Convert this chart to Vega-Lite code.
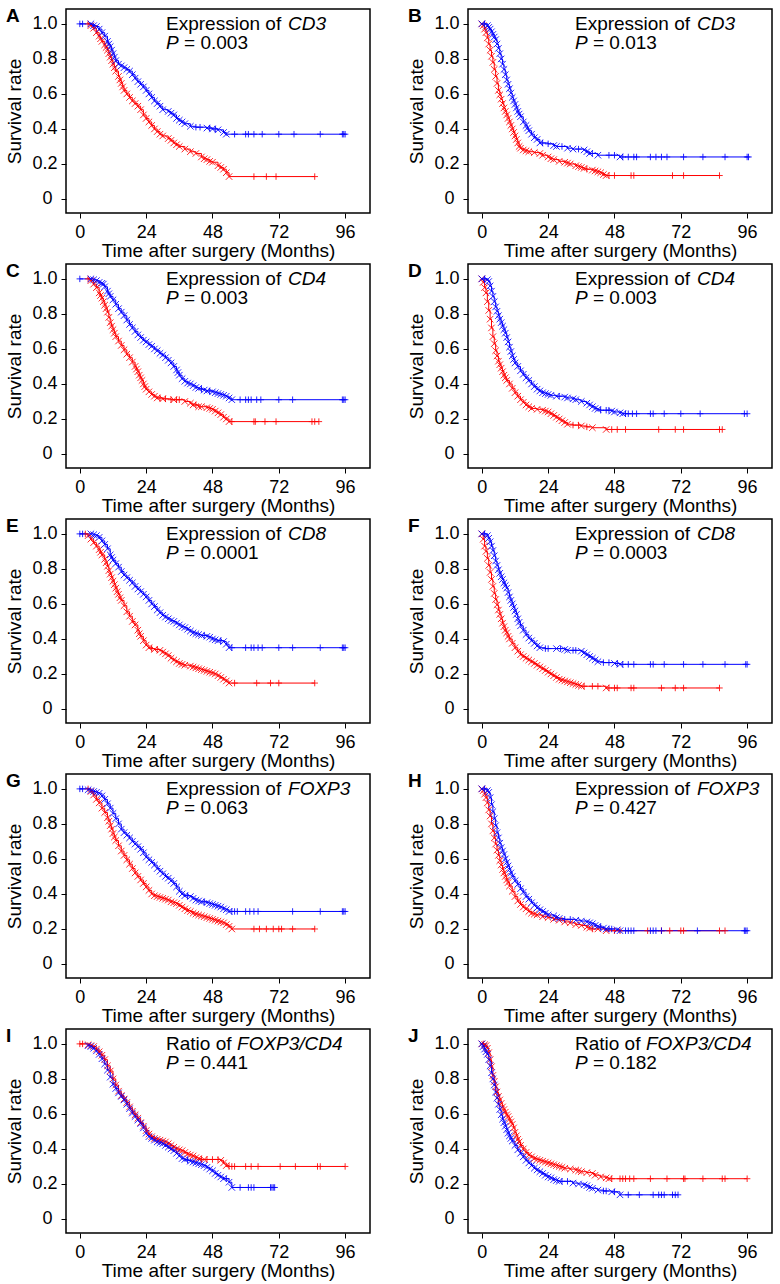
{
"$schema":"https://vega.github.io/schema/vega-lite/v6.json",
"padding":{"left":5,"top":6,"right":5,"bottom":2},
"datasets":{"km":[
{"p":"A","g":"r","t":3,"s":1,"m":"+"},{"p":"A","g":"r","t":4,"s":0.99,"m":"x"},{"p":"A","g":"r","t":5,"s":0.975,"m":"x"},{"p":"A","g":"r","t":6,"s":0.95,"m":"x"},{"p":"A","g":"r","t":7,"s":0.93,"m":"x"},{"p":"A","g":"r","t":7.5,"s":0.915,"m":"x"},{"p":"A","g":"r","t":8,"s":0.9,"m":"x"},{"p":"A","g":"r","t":9,"s":0.88,"m":"x"},{"p":"A","g":"r","t":9.5,"s":0.865,"m":"x"},{"p":"A","g":"r","t":10,"s":0.85,"m":"x"},{"p":"A","g":"r","t":10.5,"s":0.83,"m":"x"},{"p":"A","g":"r","t":11,"s":0.81,"m":"x"},{"p":"A","g":"r","t":11.5,"s":0.79,"m":"x"},{"p":"A","g":"r","t":12,"s":0.77,"m":"x"},{"p":"A","g":"r","t":12.5,"s":0.75,"m":"x"},{"p":"A","g":"r","t":13,"s":0.73,"m":"x"},{"p":"A","g":"r","t":14,"s":0.7,"m":"x"},{"p":"A","g":"r","t":14.5,"s":0.68,"m":"x"},{"p":"A","g":"r","t":15,"s":0.66,"m":"x"},{"p":"A","g":"r","t":15.5,"s":0.64,"m":"x"},{"p":"A","g":"r","t":16,"s":0.62,"m":"x"},{"p":"A","g":"r","t":17,"s":0.6,"m":"x"},{"p":"A","g":"r","t":18,"s":0.58,"m":"x"},{"p":"A","g":"r","t":19,"s":0.56,"m":"x"},{"p":"A","g":"r","t":20,"s":0.545,"m":"x"},{"p":"A","g":"r","t":21,"s":0.53,"m":"x"},{"p":"A","g":"r","t":22,"s":0.51,"m":"x"},{"p":"A","g":"r","t":23,"s":0.48,"m":"x"},{"p":"A","g":"r","t":24,"s":0.46,"m":"x"},{"p":"A","g":"r","t":25,"s":0.44,"m":"x"},{"p":"A","g":"r","t":26,"s":0.42,"m":"x"},{"p":"A","g":"r","t":27,"s":0.4,"m":"x"},{"p":"A","g":"r","t":28,"s":0.385,"m":"x"},{"p":"A","g":"r","t":29,"s":0.37,"m":"x"},{"p":"A","g":"r","t":30,"s":0.36,"m":"x"},{"p":"A","g":"r","t":32,"s":0.345,"m":"x"},{"p":"A","g":"r","t":33,"s":0.335,"m":"x"},{"p":"A","g":"r","t":34,"s":0.32,"m":"x"},{"p":"A","g":"r","t":35,"s":0.31,"m":"x"},{"p":"A","g":"r","t":36,"s":0.3,"m":"x"},{"p":"A","g":"r","t":38,"s":0.285,"m":"x"},{"p":"A","g":"r","t":40,"s":0.27,"m":"x"},{"p":"A","g":"r","t":42,"s":0.26,"m":"x"},{"p":"A","g":"r","t":44,"s":0.24,"m":"x"},{"p":"A","g":"r","t":45,"s":0.23,"m":"x"},{"p":"A","g":"r","t":46,"s":0.225,"m":"x"},{"p":"A","g":"r","t":47,"s":0.215,"m":"x"},{"p":"A","g":"r","t":48,"s":0.21,"m":"x"},{"p":"A","g":"r","t":50,"s":0.19,"m":"x"},{"p":"A","g":"r","t":51,"s":0.18,"m":"x"},{"p":"A","g":"r","t":52,"s":0.17,"m":"x"},{"p":"A","g":"r","t":53,"s":0.15,"m":"x"},{"p":"A","g":"r","t":54,"s":0.128,"m":"x"},{"p":"A","g":"r","t":63,"s":0.128,"m":"+"},{"p":"A","g":"r","t":67.5,"s":0.128,"m":"+"},{"p":"A","g":"r","t":71,"s":0.128,"m":"+"},{"p":"A","g":"r","t":85,"s":0.128,"m":"+"},
{"p":"A","g":"b","t":0,"s":1,"m":"+"},{"p":"A","g":"b","t":1,"s":1,"m":"+"},{"p":"A","g":"b","t":4,"s":1,"m":"x"},{"p":"A","g":"b","t":5,"s":0.99,"m":"x"},{"p":"A","g":"b","t":6,"s":0.985,"m":"x"},{"p":"A","g":"b","t":7,"s":0.97,"m":"x"},{"p":"A","g":"b","t":8,"s":0.95,"m":"x"},{"p":"A","g":"b","t":9,"s":0.93,"m":"x"},{"p":"A","g":"b","t":10,"s":0.9,"m":"x"},{"p":"A","g":"b","t":10.5,"s":0.885,"m":"x"},{"p":"A","g":"b","t":11,"s":0.87,"m":"x"},{"p":"A","g":"b","t":11.5,"s":0.85,"m":"x"},{"p":"A","g":"b","t":12,"s":0.83,"m":"x"},{"p":"A","g":"b","t":12.5,"s":0.81,"m":"x"},{"p":"A","g":"b","t":13,"s":0.79,"m":"x"},{"p":"A","g":"b","t":14,"s":0.77,"m":"x"},{"p":"A","g":"b","t":15,"s":0.76,"m":"x"},{"p":"A","g":"b","t":16,"s":0.75,"m":"x"},{"p":"A","g":"b","t":17,"s":0.74,"m":"x"},{"p":"A","g":"b","t":18,"s":0.73,"m":"x"},{"p":"A","g":"b","t":19,"s":0.71,"m":"x"},{"p":"A","g":"b","t":20,"s":0.69,"m":"x"},{"p":"A","g":"b","t":21,"s":0.67,"m":"x"},{"p":"A","g":"b","t":22,"s":0.655,"m":"x"},{"p":"A","g":"b","t":23,"s":0.64,"m":"x"},{"p":"A","g":"b","t":24,"s":0.62,"m":"x"},{"p":"A","g":"b","t":25,"s":0.6,"m":"x"},{"p":"A","g":"b","t":26,"s":0.58,"m":"x"},{"p":"A","g":"b","t":27,"s":0.56,"m":"x"},{"p":"A","g":"b","t":28,"s":0.545,"m":"x"},{"p":"A","g":"b","t":29,"s":0.53,"m":"x"},{"p":"A","g":"b","t":30,"s":0.51,"m":"x"},{"p":"A","g":"b","t":32,"s":0.5,"m":"x"},{"p":"A","g":"b","t":33,"s":0.49,"m":"x"},{"p":"A","g":"b","t":34,"s":0.48,"m":"x"},{"p":"A","g":"b","t":35,"s":0.46,"m":"x"},{"p":"A","g":"b","t":36,"s":0.45,"m":"x"},{"p":"A","g":"b","t":37,"s":0.44,"m":"x"},{"p":"A","g":"b","t":38,"s":0.43,"m":"x"},{"p":"A","g":"b","t":40,"s":0.415,"m":"x"},{"p":"A","g":"b","t":42,"s":0.41,"m":"+"},{"p":"A","g":"b","t":43.5,"s":0.41,"m":"+"},{"p":"A","g":"b","t":46,"s":0.405,"m":"x"},{"p":"A","g":"b","t":47,"s":0.405,"m":"+"},{"p":"A","g":"b","t":48,"s":0.4,"m":"x"},{"p":"A","g":"b","t":49,"s":0.4,"m":"+"},{"p":"A","g":"b","t":50,"s":0.395,"m":"x"},{"p":"A","g":"b","t":52,"s":0.38,"m":"x"},{"p":"A","g":"b","t":53,"s":0.37,"m":"x"},{"p":"A","g":"b","t":56,"s":0.37,"m":"+"},{"p":"A","g":"b","t":60,"s":0.37,"m":"+"},{"p":"A","g":"b","t":61,"s":0.37,"m":"+"},{"p":"A","g":"b","t":63,"s":0.37,"m":"+"},{"p":"A","g":"b","t":66,"s":0.37,"m":"+"},{"p":"A","g":"b","t":72,"s":0.37,"m":"+"},{"p":"A","g":"b","t":77.5,"s":0.37,"m":"+"},{"p":"A","g":"b","t":87,"s":0.37,"m":"+"},{"p":"A","g":"b","t":95,"s":0.37,"m":"+"},{"p":"A","g":"b","t":95.5,"s":0.37,"m":"+"},{"p":"A","g":"b","t":96,"s":0.37,"m":"+"},
{"p":"B","g":"r","t":0,"s":1,"m":"x"},{"p":"B","g":"r","t":0.5,"s":0.99,"m":"x"},{"p":"B","g":"r","t":1,"s":0.97,"m":"x"},{"p":"B","g":"r","t":1.5,"s":0.95,"m":"x"},{"p":"B","g":"r","t":2,"s":0.92,"m":"x"},{"p":"B","g":"r","t":2.5,"s":0.885,"m":"x"},{"p":"B","g":"r","t":3,"s":0.85,"m":"x"},{"p":"B","g":"r","t":3.5,"s":0.815,"m":"x"},{"p":"B","g":"r","t":4,"s":0.78,"m":"x"},{"p":"B","g":"r","t":4.5,"s":0.74,"m":"x"},{"p":"B","g":"r","t":5,"s":0.7,"m":"x"},{"p":"B","g":"r","t":5.5,"s":0.66,"m":"x"},{"p":"B","g":"r","t":6,"s":0.62,"m":"x"},{"p":"B","g":"r","t":6.5,"s":0.595,"m":"x"},{"p":"B","g":"r","t":7,"s":0.57,"m":"x"},{"p":"B","g":"r","t":7.5,"s":0.545,"m":"x"},{"p":"B","g":"r","t":8,"s":0.52,"m":"x"},{"p":"B","g":"r","t":8.5,"s":0.5,"m":"x"},{"p":"B","g":"r","t":9,"s":0.48,"m":"x"},{"p":"B","g":"r","t":9.5,"s":0.46,"m":"x"},{"p":"B","g":"r","t":10,"s":0.44,"m":"x"},{"p":"B","g":"r","t":10.5,"s":0.42,"m":"x"},{"p":"B","g":"r","t":11,"s":0.4,"m":"x"},{"p":"B","g":"r","t":11.5,"s":0.38,"m":"x"},{"p":"B","g":"r","t":12,"s":0.36,"m":"x"},{"p":"B","g":"r","t":12.5,"s":0.34,"m":"x"},{"p":"B","g":"r","t":13,"s":0.32,"m":"x"},{"p":"B","g":"r","t":13.5,"s":0.3,"m":"x"},{"p":"B","g":"r","t":14,"s":0.29,"m":"x"},{"p":"B","g":"r","t":15,"s":0.28,"m":"x"},{"p":"B","g":"r","t":16,"s":0.275,"m":"x"},{"p":"B","g":"r","t":17,"s":0.27,"m":"x"},{"p":"B","g":"r","t":19,"s":0.265,"m":"x"},{"p":"B","g":"r","t":21,"s":0.26,"m":"x"},{"p":"B","g":"r","t":22,"s":0.25,"m":"x"},{"p":"B","g":"r","t":24,"s":0.24,"m":"x"},{"p":"B","g":"r","t":25,"s":0.23,"m":"x"},{"p":"B","g":"r","t":26,"s":0.225,"m":"x"},{"p":"B","g":"r","t":28,"s":0.215,"m":"x"},{"p":"B","g":"r","t":30,"s":0.21,"m":"x"},{"p":"B","g":"r","t":31,"s":0.205,"m":"x"},{"p":"B","g":"r","t":32,"s":0.2,"m":"x"},{"p":"B","g":"r","t":34,"s":0.19,"m":"x"},{"p":"B","g":"r","t":35,"s":0.185,"m":"x"},{"p":"B","g":"r","t":36,"s":0.18,"m":"x"},{"p":"B","g":"r","t":37,"s":0.175,"m":"x"},{"p":"B","g":"r","t":38,"s":0.17,"m":"+"},{"p":"B","g":"r","t":40,"s":0.165,"m":"x"},{"p":"B","g":"r","t":41,"s":0.16,"m":"x"},{"p":"B","g":"r","t":42,"s":0.155,"m":"x"},{"p":"B","g":"r","t":43,"s":0.15,"m":"x"},{"p":"B","g":"r","t":44,"s":0.14,"m":"x"},{"p":"B","g":"r","t":45,"s":0.134,"m":"x"},{"p":"B","g":"r","t":46,"s":0.134,"m":"+"},{"p":"B","g":"r","t":48,"s":0.134,"m":"+"},{"p":"B","g":"r","t":54,"s":0.134,"m":"+"},{"p":"B","g":"r","t":55,"s":0.134,"m":"+"},{"p":"B","g":"r","t":69,"s":0.134,"m":"+"},{"p":"B","g":"r","t":73,"s":0.134,"m":"+"},{"p":"B","g":"r","t":86,"s":0.134,"m":"+"},
{"p":"B","g":"b","t":0,"s":1,"m":"x"},{"p":"B","g":"b","t":1,"s":1,"m":"+"},{"p":"B","g":"b","t":2,"s":0.99,"m":"x"},{"p":"B","g":"b","t":2.5,"s":0.98,"m":"x"},{"p":"B","g":"b","t":3,"s":0.97,"m":"x"},{"p":"B","g":"b","t":3.5,"s":0.955,"m":"x"},{"p":"B","g":"b","t":4,"s":0.94,"m":"x"},{"p":"B","g":"b","t":4.5,"s":0.925,"m":"x"},{"p":"B","g":"b","t":5,"s":0.91,"m":"x"},{"p":"B","g":"b","t":5.5,"s":0.885,"m":"x"},{"p":"B","g":"b","t":6,"s":0.86,"m":"x"},{"p":"B","g":"b","t":6.5,"s":0.83,"m":"x"},{"p":"B","g":"b","t":7,"s":0.8,"m":"x"},{"p":"B","g":"b","t":7.5,"s":0.77,"m":"x"},{"p":"B","g":"b","t":8,"s":0.74,"m":"x"},{"p":"B","g":"b","t":8.5,"s":0.71,"m":"x"},{"p":"B","g":"b","t":9,"s":0.68,"m":"x"},{"p":"B","g":"b","t":9.5,"s":0.655,"m":"x"},{"p":"B","g":"b","t":10,"s":0.63,"m":"x"},{"p":"B","g":"b","t":10.5,"s":0.605,"m":"x"},{"p":"B","g":"b","t":11,"s":0.58,"m":"x"},{"p":"B","g":"b","t":11.5,"s":0.56,"m":"x"},{"p":"B","g":"b","t":12,"s":0.54,"m":"x"},{"p":"B","g":"b","t":12.5,"s":0.52,"m":"x"},{"p":"B","g":"b","t":13,"s":0.5,"m":"x"},{"p":"B","g":"b","t":13.5,"s":0.485,"m":"x"},{"p":"B","g":"b","t":14,"s":0.47,"m":"x"},{"p":"B","g":"b","t":15,"s":0.44,"m":"x"},{"p":"B","g":"b","t":16,"s":0.42,"m":"x"},{"p":"B","g":"b","t":16.5,"s":0.405,"m":"x"},{"p":"B","g":"b","t":17,"s":0.39,"m":"x"},{"p":"B","g":"b","t":18,"s":0.37,"m":"x"},{"p":"B","g":"b","t":19,"s":0.35,"m":"x"},{"p":"B","g":"b","t":20,"s":0.34,"m":"x"},{"p":"B","g":"b","t":21,"s":0.32,"m":"x"},{"p":"B","g":"b","t":22,"s":0.32,"m":"+"},{"p":"B","g":"b","t":24,"s":0.315,"m":"+"},{"p":"B","g":"b","t":26,"s":0.305,"m":"x"},{"p":"B","g":"b","t":27,"s":0.3,"m":"x"},{"p":"B","g":"b","t":29,"s":0.3,"m":"+"},{"p":"B","g":"b","t":31,"s":0.29,"m":"x"},{"p":"B","g":"b","t":33,"s":0.285,"m":"x"},{"p":"B","g":"b","t":35,"s":0.285,"m":"+"},{"p":"B","g":"b","t":37,"s":0.28,"m":"x"},{"p":"B","g":"b","t":38,"s":0.27,"m":"x"},{"p":"B","g":"b","t":39,"s":0.26,"m":"x"},{"p":"B","g":"b","t":40,"s":0.26,"m":"+"},{"p":"B","g":"b","t":42,"s":0.25,"m":"x"},{"p":"B","g":"b","t":46,"s":0.25,"m":"+"},{"p":"B","g":"b","t":48,"s":0.25,"m":"+"},{"p":"B","g":"b","t":50,"s":0.24,"m":"x"},{"p":"B","g":"b","t":51,"s":0.24,"m":"+"},{"p":"B","g":"b","t":53,"s":0.24,"m":"+"},{"p":"B","g":"b","t":55,"s":0.24,"m":"+"},{"p":"B","g":"b","t":56,"s":0.24,"m":"+"},{"p":"B","g":"b","t":61,"s":0.24,"m":"+"},{"p":"B","g":"b","t":63,"s":0.24,"m":"+"},{"p":"B","g":"b","t":65,"s":0.24,"m":"+"},{"p":"B","g":"b","t":67,"s":0.24,"m":"+"},{"p":"B","g":"b","t":73,"s":0.24,"m":"+"},{"p":"B","g":"b","t":80,"s":0.24,"m":"+"},{"p":"B","g":"b","t":88,"s":0.24,"m":"+"},{"p":"B","g":"b","t":96,"s":0.24,"m":"+"},{"p":"B","g":"b","t":96.5,"s":0.24,"m":"+"},
{"p":"C","g":"r","t":3,"s":1,"m":"+"},{"p":"C","g":"r","t":4,"s":0.99,"m":"x"},{"p":"C","g":"r","t":5,"s":0.97,"m":"x"},{"p":"C","g":"r","t":6,"s":0.95,"m":"x"},{"p":"C","g":"r","t":7,"s":0.92,"m":"x"},{"p":"C","g":"r","t":7.5,"s":0.905,"m":"x"},{"p":"C","g":"r","t":8,"s":0.89,"m":"x"},{"p":"C","g":"r","t":8.5,"s":0.87,"m":"x"},{"p":"C","g":"r","t":9,"s":0.85,"m":"x"},{"p":"C","g":"r","t":9.5,"s":0.83,"m":"x"},{"p":"C","g":"r","t":10,"s":0.81,"m":"x"},{"p":"C","g":"r","t":10.5,"s":0.78,"m":"x"},{"p":"C","g":"r","t":11,"s":0.75,"m":"x"},{"p":"C","g":"r","t":11.5,"s":0.73,"m":"x"},{"p":"C","g":"r","t":12,"s":0.71,"m":"x"},{"p":"C","g":"r","t":12.5,"s":0.69,"m":"x"},{"p":"C","g":"r","t":13,"s":0.67,"m":"x"},{"p":"C","g":"r","t":14,"s":0.645,"m":"x"},{"p":"C","g":"r","t":15,"s":0.62,"m":"x"},{"p":"C","g":"r","t":16,"s":0.595,"m":"x"},{"p":"C","g":"r","t":17,"s":0.57,"m":"x"},{"p":"C","g":"r","t":18,"s":0.55,"m":"x"},{"p":"C","g":"r","t":19,"s":0.525,"m":"x"},{"p":"C","g":"r","t":20,"s":0.5,"m":"x"},{"p":"C","g":"r","t":20.5,"s":0.485,"m":"x"},{"p":"C","g":"r","t":21,"s":0.47,"m":"x"},{"p":"C","g":"r","t":21.5,"s":0.45,"m":"x"},{"p":"C","g":"r","t":22,"s":0.435,"m":"x"},{"p":"C","g":"r","t":22.5,"s":0.42,"m":"x"},{"p":"C","g":"r","t":23,"s":0.4,"m":"x"},{"p":"C","g":"r","t":23.5,"s":0.385,"m":"x"},{"p":"C","g":"r","t":24,"s":0.37,"m":"x"},{"p":"C","g":"r","t":25,"s":0.355,"m":"x"},{"p":"C","g":"r","t":26,"s":0.34,"m":"x"},{"p":"C","g":"r","t":27,"s":0.33,"m":"x"},{"p":"C","g":"r","t":28,"s":0.32,"m":"x"},{"p":"C","g":"r","t":29,"s":0.32,"m":"+"},{"p":"C","g":"r","t":30,"s":0.315,"m":"x"},{"p":"C","g":"r","t":31,"s":0.315,"m":"+"},{"p":"C","g":"r","t":33,"s":0.31,"m":"+"},{"p":"C","g":"r","t":34,"s":0.31,"m":"x"},{"p":"C","g":"r","t":35,"s":0.31,"m":"+"},{"p":"C","g":"r","t":36,"s":0.31,"m":"+"},{"p":"C","g":"r","t":38,"s":0.3,"m":"x"},{"p":"C","g":"r","t":40,"s":0.29,"m":"x"},{"p":"C","g":"r","t":41,"s":0.28,"m":"x"},{"p":"C","g":"r","t":42,"s":0.28,"m":"+"},{"p":"C","g":"r","t":43,"s":0.27,"m":"x"},{"p":"C","g":"r","t":44,"s":0.27,"m":"x"},{"p":"C","g":"r","t":46,"s":0.265,"m":"x"},{"p":"C","g":"r","t":47,"s":0.26,"m":"x"},{"p":"C","g":"r","t":48,"s":0.255,"m":"x"},{"p":"C","g":"r","t":49,"s":0.245,"m":"x"},{"p":"C","g":"r","t":50,"s":0.235,"m":"x"},{"p":"C","g":"r","t":51,"s":0.225,"m":"x"},{"p":"C","g":"r","t":52,"s":0.21,"m":"x"},{"p":"C","g":"r","t":53,"s":0.2,"m":"x"},{"p":"C","g":"r","t":54,"s":0.185,"m":"x"},{"p":"C","g":"r","t":55,"s":0.185,"m":"+"},{"p":"C","g":"r","t":63,"s":0.185,"m":"+"},{"p":"C","g":"r","t":63.5,"s":0.185,"m":"+"},{"p":"C","g":"r","t":67,"s":0.185,"m":"+"},{"p":"C","g":"r","t":71,"s":0.185,"m":"+"},{"p":"C","g":"r","t":84,"s":0.185,"m":"+"},{"p":"C","g":"r","t":85,"s":0.185,"m":"+"},{"p":"C","g":"r","t":86.5,"s":0.185,"m":"+"},
{"p":"C","g":"b","t":0,"s":1,"m":"+"},{"p":"C","g":"b","t":4,"s":1,"m":"x"},{"p":"C","g":"b","t":5,"s":0.995,"m":"x"},{"p":"C","g":"b","t":6,"s":0.99,"m":"x"},{"p":"C","g":"b","t":7,"s":0.98,"m":"x"},{"p":"C","g":"b","t":8,"s":0.975,"m":"x"},{"p":"C","g":"b","t":8.5,"s":0.97,"m":"x"},{"p":"C","g":"b","t":9,"s":0.955,"m":"x"},{"p":"C","g":"b","t":10,"s":0.93,"m":"x"},{"p":"C","g":"b","t":10.5,"s":0.915,"m":"x"},{"p":"C","g":"b","t":11,"s":0.9,"m":"x"},{"p":"C","g":"b","t":12,"s":0.88,"m":"x"},{"p":"C","g":"b","t":13,"s":0.855,"m":"x"},{"p":"C","g":"b","t":14,"s":0.83,"m":"x"},{"p":"C","g":"b","t":15,"s":0.81,"m":"x"},{"p":"C","g":"b","t":16,"s":0.79,"m":"x"},{"p":"C","g":"b","t":17,"s":0.765,"m":"x"},{"p":"C","g":"b","t":18,"s":0.74,"m":"x"},{"p":"C","g":"b","t":19,"s":0.72,"m":"x"},{"p":"C","g":"b","t":20,"s":0.7,"m":"x"},{"p":"C","g":"b","t":21,"s":0.68,"m":"x"},{"p":"C","g":"b","t":22,"s":0.665,"m":"x"},{"p":"C","g":"b","t":23,"s":0.65,"m":"x"},{"p":"C","g":"b","t":24,"s":0.64,"m":"x"},{"p":"C","g":"b","t":25,"s":0.625,"m":"x"},{"p":"C","g":"b","t":26,"s":0.615,"m":"x"},{"p":"C","g":"b","t":27,"s":0.6,"m":"x"},{"p":"C","g":"b","t":28,"s":0.59,"m":"x"},{"p":"C","g":"b","t":29,"s":0.575,"m":"x"},{"p":"C","g":"b","t":30,"s":0.565,"m":"x"},{"p":"C","g":"b","t":31,"s":0.55,"m":"x"},{"p":"C","g":"b","t":32,"s":0.535,"m":"x"},{"p":"C","g":"b","t":33,"s":0.52,"m":"x"},{"p":"C","g":"b","t":34,"s":0.5,"m":"x"},{"p":"C","g":"b","t":35,"s":0.48,"m":"x"},{"p":"C","g":"b","t":35.5,"s":0.465,"m":"x"},{"p":"C","g":"b","t":36,"s":0.45,"m":"x"},{"p":"C","g":"b","t":37,"s":0.43,"m":"x"},{"p":"C","g":"b","t":38,"s":0.415,"m":"x"},{"p":"C","g":"b","t":39,"s":0.405,"m":"x"},{"p":"C","g":"b","t":40,"s":0.4,"m":"x"},{"p":"C","g":"b","t":41,"s":0.39,"m":"x"},{"p":"C","g":"b","t":42,"s":0.38,"m":"x"},{"p":"C","g":"b","t":43,"s":0.375,"m":"x"},{"p":"C","g":"b","t":44,"s":0.37,"m":"+"},{"p":"C","g":"b","t":45,"s":0.365,"m":"x"},{"p":"C","g":"b","t":46,"s":0.36,"m":"x"},{"p":"C","g":"b","t":47,"s":0.36,"m":"+"},{"p":"C","g":"b","t":48,"s":0.355,"m":"x"},{"p":"C","g":"b","t":49,"s":0.35,"m":"x"},{"p":"C","g":"b","t":50,"s":0.345,"m":"x"},{"p":"C","g":"b","t":51,"s":0.34,"m":"x"},{"p":"C","g":"b","t":52,"s":0.335,"m":"x"},{"p":"C","g":"b","t":53,"s":0.33,"m":"x"},{"p":"C","g":"b","t":54,"s":0.32,"m":"x"},{"p":"C","g":"b","t":55,"s":0.31,"m":"x"},{"p":"C","g":"b","t":58,"s":0.31,"m":"+"},{"p":"C","g":"b","t":60,"s":0.31,"m":"+"},{"p":"C","g":"b","t":61,"s":0.31,"m":"+"},{"p":"C","g":"b","t":62,"s":0.31,"m":"+"},{"p":"C","g":"b","t":64,"s":0.31,"m":"+"},{"p":"C","g":"b","t":65.5,"s":0.31,"m":"+"},{"p":"C","g":"b","t":72,"s":0.31,"m":"+"},{"p":"C","g":"b","t":77,"s":0.31,"m":"+"},{"p":"C","g":"b","t":95,"s":0.31,"m":"+"},{"p":"C","g":"b","t":95.5,"s":0.31,"m":"+"},{"p":"C","g":"b","t":96,"s":0.31,"m":"+"},
{"p":"D","g":"r","t":0,"s":1,"m":"x"},{"p":"D","g":"r","t":0.5,"s":0.98,"m":"x"},{"p":"D","g":"r","t":1,"s":0.95,"m":"x"},{"p":"D","g":"r","t":1.5,"s":0.92,"m":"x"},{"p":"D","g":"r","t":2,"s":0.87,"m":"x"},{"p":"D","g":"r","t":2.5,"s":0.82,"m":"x"},{"p":"D","g":"r","t":3,"s":0.77,"m":"x"},{"p":"D","g":"r","t":3.5,"s":0.72,"m":"x"},{"p":"D","g":"r","t":4,"s":0.67,"m":"x"},{"p":"D","g":"r","t":4.5,"s":0.63,"m":"x"},{"p":"D","g":"r","t":5,"s":0.59,"m":"x"},{"p":"D","g":"r","t":5.5,"s":0.56,"m":"x"},{"p":"D","g":"r","t":6,"s":0.53,"m":"x"},{"p":"D","g":"r","t":6.5,"s":0.51,"m":"x"},{"p":"D","g":"r","t":7,"s":0.49,"m":"x"},{"p":"D","g":"r","t":7.5,"s":0.47,"m":"x"},{"p":"D","g":"r","t":8,"s":0.45,"m":"x"},{"p":"D","g":"r","t":8.5,"s":0.435,"m":"x"},{"p":"D","g":"r","t":9,"s":0.42,"m":"x"},{"p":"D","g":"r","t":10,"s":0.4,"m":"x"},{"p":"D","g":"r","t":11,"s":0.375,"m":"x"},{"p":"D","g":"r","t":12,"s":0.35,"m":"x"},{"p":"D","g":"r","t":13,"s":0.33,"m":"x"},{"p":"D","g":"r","t":14,"s":0.31,"m":"x"},{"p":"D","g":"r","t":15,"s":0.295,"m":"x"},{"p":"D","g":"r","t":16,"s":0.28,"m":"x"},{"p":"D","g":"r","t":17,"s":0.27,"m":"x"},{"p":"D","g":"r","t":18,"s":0.26,"m":"x"},{"p":"D","g":"r","t":20,"s":0.255,"m":"x"},{"p":"D","g":"r","t":22,"s":0.25,"m":"x"},{"p":"D","g":"r","t":23,"s":0.245,"m":"x"},{"p":"D","g":"r","t":24,"s":0.24,"m":"x"},{"p":"D","g":"r","t":25,"s":0.23,"m":"x"},{"p":"D","g":"r","t":26,"s":0.22,"m":"x"},{"p":"D","g":"r","t":27,"s":0.21,"m":"x"},{"p":"D","g":"r","t":28,"s":0.2,"m":"x"},{"p":"D","g":"r","t":29,"s":0.19,"m":"x"},{"p":"D","g":"r","t":30,"s":0.18,"m":"x"},{"p":"D","g":"r","t":31,"s":0.17,"m":"x"},{"p":"D","g":"r","t":33,"s":0.165,"m":"+"},{"p":"D","g":"r","t":35,"s":0.165,"m":"+"},{"p":"D","g":"r","t":36,"s":0.16,"m":"x"},{"p":"D","g":"r","t":38,"s":0.155,"m":"+"},{"p":"D","g":"r","t":40,"s":0.15,"m":"x"},{"p":"D","g":"r","t":45,"s":0.14,"m":"x"},{"p":"D","g":"r","t":47,"s":0.14,"m":"+"},{"p":"D","g":"r","t":49,"s":0.14,"m":"+"},{"p":"D","g":"r","t":52,"s":0.14,"m":"+"},{"p":"D","g":"r","t":64,"s":0.14,"m":"+"},{"p":"D","g":"r","t":70,"s":0.14,"m":"+"},{"p":"D","g":"r","t":73,"s":0.14,"m":"+"},{"p":"D","g":"r","t":86,"s":0.14,"m":"+"},{"p":"D","g":"r","t":87,"s":0.14,"m":"+"},
{"p":"D","g":"b","t":0,"s":1,"m":"x"},{"p":"D","g":"b","t":1,"s":1,"m":"+"},{"p":"D","g":"b","t":2,"s":0.995,"m":"x"},{"p":"D","g":"b","t":2.5,"s":0.985,"m":"x"},{"p":"D","g":"b","t":3,"s":0.96,"m":"x"},{"p":"D","g":"b","t":3.5,"s":0.93,"m":"x"},{"p":"D","g":"b","t":4,"s":0.9,"m":"x"},{"p":"D","g":"b","t":4.5,"s":0.87,"m":"x"},{"p":"D","g":"b","t":5,"s":0.84,"m":"x"},{"p":"D","g":"b","t":5.5,"s":0.815,"m":"x"},{"p":"D","g":"b","t":6,"s":0.79,"m":"x"},{"p":"D","g":"b","t":6.5,"s":0.77,"m":"x"},{"p":"D","g":"b","t":7,"s":0.75,"m":"x"},{"p":"D","g":"b","t":7.5,"s":0.73,"m":"x"},{"p":"D","g":"b","t":8,"s":0.71,"m":"x"},{"p":"D","g":"b","t":8.5,"s":0.69,"m":"x"},{"p":"D","g":"b","t":9,"s":0.665,"m":"x"},{"p":"D","g":"b","t":9.5,"s":0.64,"m":"x"},{"p":"D","g":"b","t":10,"s":0.61,"m":"x"},{"p":"D","g":"b","t":10.5,"s":0.585,"m":"x"},{"p":"D","g":"b","t":11,"s":0.56,"m":"x"},{"p":"D","g":"b","t":11.5,"s":0.54,"m":"x"},{"p":"D","g":"b","t":12,"s":0.52,"m":"x"},{"p":"D","g":"b","t":13,"s":0.5,"m":"x"},{"p":"D","g":"b","t":14,"s":0.475,"m":"x"},{"p":"D","g":"b","t":15,"s":0.455,"m":"x"},{"p":"D","g":"b","t":16,"s":0.435,"m":"x"},{"p":"D","g":"b","t":17,"s":0.42,"m":"x"},{"p":"D","g":"b","t":18,"s":0.4,"m":"x"},{"p":"D","g":"b","t":19,"s":0.385,"m":"x"},{"p":"D","g":"b","t":20,"s":0.37,"m":"x"},{"p":"D","g":"b","t":21,"s":0.36,"m":"x"},{"p":"D","g":"b","t":22,"s":0.35,"m":"x"},{"p":"D","g":"b","t":23,"s":0.345,"m":"x"},{"p":"D","g":"b","t":24,"s":0.34,"m":"x"},{"p":"D","g":"b","t":25,"s":0.335,"m":"x"},{"p":"D","g":"b","t":27,"s":0.33,"m":"x"},{"p":"D","g":"b","t":28,"s":0.33,"m":"+"},{"p":"D","g":"b","t":30,"s":0.325,"m":"x"},{"p":"D","g":"b","t":31,"s":0.32,"m":"x"},{"p":"D","g":"b","t":33,"s":0.315,"m":"x"},{"p":"D","g":"b","t":34,"s":0.31,"m":"x"},{"p":"D","g":"b","t":36,"s":0.3,"m":"x"},{"p":"D","g":"b","t":38,"s":0.29,"m":"x"},{"p":"D","g":"b","t":39,"s":0.28,"m":"x"},{"p":"D","g":"b","t":40,"s":0.27,"m":"x"},{"p":"D","g":"b","t":41,"s":0.26,"m":"x"},{"p":"D","g":"b","t":42,"s":0.255,"m":"x"},{"p":"D","g":"b","t":43,"s":0.25,"m":"+"},{"p":"D","g":"b","t":45,"s":0.25,"m":"+"},{"p":"D","g":"b","t":46,"s":0.25,"m":"+"},{"p":"D","g":"b","t":47,"s":0.245,"m":"x"},{"p":"D","g":"b","t":48,"s":0.24,"m":"x"},{"p":"D","g":"b","t":50,"s":0.235,"m":"x"},{"p":"D","g":"b","t":51,"s":0.23,"m":"x"},{"p":"D","g":"b","t":52,"s":0.23,"m":"+"},{"p":"D","g":"b","t":53,"s":0.23,"m":"+"},{"p":"D","g":"b","t":54.5,"s":0.23,"m":"+"},{"p":"D","g":"b","t":56,"s":0.23,"m":"+"},{"p":"D","g":"b","t":61,"s":0.23,"m":"+"},{"p":"D","g":"b","t":62,"s":0.23,"m":"+"},{"p":"D","g":"b","t":66,"s":0.23,"m":"+"},{"p":"D","g":"b","t":72,"s":0.23,"m":"+"},{"p":"D","g":"b","t":79,"s":0.23,"m":"+"},{"p":"D","g":"b","t":95,"s":0.23,"m":"+"},{"p":"D","g":"b","t":96,"s":0.23,"m":"+"},
{"p":"E","g":"r","t":2,"s":1,"m":"+"},{"p":"E","g":"r","t":3,"s":0.99,"m":"x"},{"p":"E","g":"r","t":4,"s":0.97,"m":"x"},{"p":"E","g":"r","t":5,"s":0.95,"m":"x"},{"p":"E","g":"r","t":6,"s":0.93,"m":"x"},{"p":"E","g":"r","t":7,"s":0.91,"m":"x"},{"p":"E","g":"r","t":7.5,"s":0.895,"m":"x"},{"p":"E","g":"r","t":8,"s":0.88,"m":"x"},{"p":"E","g":"r","t":9,"s":0.855,"m":"x"},{"p":"E","g":"r","t":9.5,"s":0.835,"m":"x"},{"p":"E","g":"r","t":10,"s":0.815,"m":"x"},{"p":"E","g":"r","t":10.5,"s":0.79,"m":"x"},{"p":"E","g":"r","t":11,"s":0.77,"m":"x"},{"p":"E","g":"r","t":11.5,"s":0.75,"m":"x"},{"p":"E","g":"r","t":12,"s":0.73,"m":"x"},{"p":"E","g":"r","t":12.5,"s":0.71,"m":"x"},{"p":"E","g":"r","t":13,"s":0.69,"m":"x"},{"p":"E","g":"r","t":13.5,"s":0.67,"m":"x"},{"p":"E","g":"r","t":14,"s":0.655,"m":"x"},{"p":"E","g":"r","t":14.5,"s":0.635,"m":"x"},{"p":"E","g":"r","t":15,"s":0.62,"m":"x"},{"p":"E","g":"r","t":16,"s":0.59,"m":"x"},{"p":"E","g":"r","t":17,"s":0.555,"m":"x"},{"p":"E","g":"r","t":18,"s":0.53,"m":"x"},{"p":"E","g":"r","t":19,"s":0.5,"m":"x"},{"p":"E","g":"r","t":20,"s":0.48,"m":"x"},{"p":"E","g":"r","t":21,"s":0.45,"m":"x"},{"p":"E","g":"r","t":21.5,"s":0.43,"m":"x"},{"p":"E","g":"r","t":22,"s":0.415,"m":"x"},{"p":"E","g":"r","t":23,"s":0.39,"m":"x"},{"p":"E","g":"r","t":24,"s":0.365,"m":"x"},{"p":"E","g":"r","t":25,"s":0.35,"m":"x"},{"p":"E","g":"r","t":26,"s":0.345,"m":"+"},{"p":"E","g":"r","t":27,"s":0.34,"m":"x"},{"p":"E","g":"r","t":28,"s":0.34,"m":"+"},{"p":"E","g":"r","t":29,"s":0.335,"m":"x"},{"p":"E","g":"r","t":30,"s":0.325,"m":"x"},{"p":"E","g":"r","t":31,"s":0.315,"m":"x"},{"p":"E","g":"r","t":32,"s":0.305,"m":"x"},{"p":"E","g":"r","t":33,"s":0.29,"m":"x"},{"p":"E","g":"r","t":34,"s":0.28,"m":"x"},{"p":"E","g":"r","t":35,"s":0.27,"m":"x"},{"p":"E","g":"r","t":36,"s":0.26,"m":"x"},{"p":"E","g":"r","t":37,"s":0.255,"m":"x"},{"p":"E","g":"r","t":38,"s":0.25,"m":"x"},{"p":"E","g":"r","t":40,"s":0.245,"m":"x"},{"p":"E","g":"r","t":41,"s":0.24,"m":"x"},{"p":"E","g":"r","t":42,"s":0.235,"m":"x"},{"p":"E","g":"r","t":43,"s":0.23,"m":"x"},{"p":"E","g":"r","t":44,"s":0.225,"m":"x"},{"p":"E","g":"r","t":45,"s":0.22,"m":"x"},{"p":"E","g":"r","t":46,"s":0.215,"m":"x"},{"p":"E","g":"r","t":47,"s":0.21,"m":"x"},{"p":"E","g":"r","t":48,"s":0.205,"m":"x"},{"p":"E","g":"r","t":49,"s":0.2,"m":"x"},{"p":"E","g":"r","t":50,"s":0.19,"m":"x"},{"p":"E","g":"r","t":51,"s":0.18,"m":"x"},{"p":"E","g":"r","t":52,"s":0.17,"m":"x"},{"p":"E","g":"r","t":53,"s":0.16,"m":"x"},{"p":"E","g":"r","t":54,"s":0.148,"m":"x"},{"p":"E","g":"r","t":56,"s":0.148,"m":"+"},{"p":"E","g":"r","t":64,"s":0.148,"m":"+"},{"p":"E","g":"r","t":69,"s":0.148,"m":"+"},{"p":"E","g":"r","t":72,"s":0.148,"m":"+"},{"p":"E","g":"r","t":85,"s":0.148,"m":"+"},
{"p":"E","g":"b","t":0,"s":1,"m":"+"},{"p":"E","g":"b","t":1,"s":1,"m":"+"},{"p":"E","g":"b","t":4,"s":1,"m":"x"},{"p":"E","g":"b","t":5,"s":0.995,"m":"x"},{"p":"E","g":"b","t":6,"s":0.99,"m":"x"},{"p":"E","g":"b","t":7,"s":0.98,"m":"x"},{"p":"E","g":"b","t":8,"s":0.96,"m":"x"},{"p":"E","g":"b","t":9,"s":0.94,"m":"x"},{"p":"E","g":"b","t":10,"s":0.915,"m":"x"},{"p":"E","g":"b","t":11,"s":0.88,"m":"x"},{"p":"E","g":"b","t":11.5,"s":0.865,"m":"x"},{"p":"E","g":"b","t":12,"s":0.85,"m":"x"},{"p":"E","g":"b","t":13,"s":0.83,"m":"x"},{"p":"E","g":"b","t":14,"s":0.81,"m":"x"},{"p":"E","g":"b","t":15,"s":0.785,"m":"x"},{"p":"E","g":"b","t":16,"s":0.765,"m":"x"},{"p":"E","g":"b","t":17,"s":0.75,"m":"x"},{"p":"E","g":"b","t":18,"s":0.735,"m":"x"},{"p":"E","g":"b","t":19,"s":0.72,"m":"x"},{"p":"E","g":"b","t":20,"s":0.7,"m":"x"},{"p":"E","g":"b","t":21,"s":0.685,"m":"x"},{"p":"E","g":"b","t":22,"s":0.67,"m":"x"},{"p":"E","g":"b","t":23,"s":0.655,"m":"x"},{"p":"E","g":"b","t":24,"s":0.64,"m":"x"},{"p":"E","g":"b","t":25,"s":0.62,"m":"x"},{"p":"E","g":"b","t":26,"s":0.6,"m":"x"},{"p":"E","g":"b","t":27,"s":0.585,"m":"x"},{"p":"E","g":"b","t":28,"s":0.565,"m":"x"},{"p":"E","g":"b","t":29,"s":0.55,"m":"x"},{"p":"E","g":"b","t":30,"s":0.535,"m":"x"},{"p":"E","g":"b","t":31,"s":0.525,"m":"x"},{"p":"E","g":"b","t":32,"s":0.515,"m":"x"},{"p":"E","g":"b","t":33,"s":0.505,"m":"x"},{"p":"E","g":"b","t":34,"s":0.5,"m":"x"},{"p":"E","g":"b","t":35,"s":0.49,"m":"x"},{"p":"E","g":"b","t":36,"s":0.48,"m":"x"},{"p":"E","g":"b","t":37,"s":0.47,"m":"x"},{"p":"E","g":"b","t":38,"s":0.465,"m":"x"},{"p":"E","g":"b","t":39,"s":0.455,"m":"x"},{"p":"E","g":"b","t":40,"s":0.445,"m":"x"},{"p":"E","g":"b","t":41,"s":0.435,"m":"x"},{"p":"E","g":"b","t":42,"s":0.43,"m":"x"},{"p":"E","g":"b","t":43,"s":0.425,"m":"x"},{"p":"E","g":"b","t":44,"s":0.42,"m":"x"},{"p":"E","g":"b","t":45,"s":0.42,"m":"+"},{"p":"E","g":"b","t":46,"s":0.415,"m":"x"},{"p":"E","g":"b","t":47,"s":0.41,"m":"x"},{"p":"E","g":"b","t":48,"s":0.4,"m":"x"},{"p":"E","g":"b","t":49,"s":0.395,"m":"x"},{"p":"E","g":"b","t":50,"s":0.39,"m":"x"},{"p":"E","g":"b","t":51,"s":0.39,"m":"+"},{"p":"E","g":"b","t":52,"s":0.385,"m":"x"},{"p":"E","g":"b","t":53,"s":0.37,"m":"x"},{"p":"E","g":"b","t":54,"s":0.35,"m":"x"},{"p":"E","g":"b","t":55,"s":0.35,"m":"+"},{"p":"E","g":"b","t":60,"s":0.35,"m":"+"},{"p":"E","g":"b","t":62,"s":0.35,"m":"+"},{"p":"E","g":"b","t":63,"s":0.35,"m":"+"},{"p":"E","g":"b","t":64.5,"s":0.35,"m":"+"},{"p":"E","g":"b","t":66,"s":0.35,"m":"+"},{"p":"E","g":"b","t":72,"s":0.35,"m":"+"},{"p":"E","g":"b","t":77,"s":0.35,"m":"+"},{"p":"E","g":"b","t":87,"s":0.35,"m":"+"},{"p":"E","g":"b","t":95,"s":0.35,"m":"+"},{"p":"E","g":"b","t":95.5,"s":0.35,"m":"+"},{"p":"E","g":"b","t":96,"s":0.35,"m":"+"},
{"p":"F","g":"r","t":0,"s":1,"m":"x"},{"p":"F","g":"r","t":0.5,"s":0.97,"m":"x"},{"p":"F","g":"r","t":1,"s":0.93,"m":"x"},{"p":"F","g":"r","t":1.5,"s":0.9,"m":"x"},{"p":"F","g":"r","t":2,"s":0.86,"m":"x"},{"p":"F","g":"r","t":2.5,"s":0.82,"m":"x"},{"p":"F","g":"r","t":3,"s":0.78,"m":"x"},{"p":"F","g":"r","t":3.5,"s":0.74,"m":"x"},{"p":"F","g":"r","t":4,"s":0.7,"m":"x"},{"p":"F","g":"r","t":4.5,"s":0.66,"m":"x"},{"p":"F","g":"r","t":5,"s":0.625,"m":"x"},{"p":"F","g":"r","t":5.5,"s":0.595,"m":"x"},{"p":"F","g":"r","t":6,"s":0.565,"m":"x"},{"p":"F","g":"r","t":6.5,"s":0.54,"m":"x"},{"p":"F","g":"r","t":7,"s":0.515,"m":"x"},{"p":"F","g":"r","t":7.5,"s":0.49,"m":"x"},{"p":"F","g":"r","t":8,"s":0.47,"m":"x"},{"p":"F","g":"r","t":8.5,"s":0.45,"m":"x"},{"p":"F","g":"r","t":9,"s":0.435,"m":"x"},{"p":"F","g":"r","t":9.5,"s":0.415,"m":"x"},{"p":"F","g":"r","t":10,"s":0.4,"m":"x"},{"p":"F","g":"r","t":11,"s":0.375,"m":"x"},{"p":"F","g":"r","t":12,"s":0.35,"m":"x"},{"p":"F","g":"r","t":13,"s":0.33,"m":"x"},{"p":"F","g":"r","t":14,"s":0.31,"m":"x"},{"p":"F","g":"r","t":15,"s":0.3,"m":"x"},{"p":"F","g":"r","t":16,"s":0.29,"m":"x"},{"p":"F","g":"r","t":17,"s":0.28,"m":"x"},{"p":"F","g":"r","t":18,"s":0.27,"m":"x"},{"p":"F","g":"r","t":19,"s":0.26,"m":"x"},{"p":"F","g":"r","t":20,"s":0.25,"m":"x"},{"p":"F","g":"r","t":21,"s":0.24,"m":"x"},{"p":"F","g":"r","t":22,"s":0.23,"m":"x"},{"p":"F","g":"r","t":23,"s":0.22,"m":"x"},{"p":"F","g":"r","t":24,"s":0.21,"m":"x"},{"p":"F","g":"r","t":25,"s":0.2,"m":"x"},{"p":"F","g":"r","t":26,"s":0.19,"m":"x"},{"p":"F","g":"r","t":27,"s":0.18,"m":"x"},{"p":"F","g":"r","t":28,"s":0.17,"m":"x"},{"p":"F","g":"r","t":29,"s":0.165,"m":"x"},{"p":"F","g":"r","t":30,"s":0.16,"m":"x"},{"p":"F","g":"r","t":31,"s":0.155,"m":"x"},{"p":"F","g":"r","t":32,"s":0.15,"m":"x"},{"p":"F","g":"r","t":33,"s":0.145,"m":"x"},{"p":"F","g":"r","t":34,"s":0.14,"m":"x"},{"p":"F","g":"r","t":35,"s":0.135,"m":"x"},{"p":"F","g":"r","t":36,"s":0.13,"m":"x"},{"p":"F","g":"r","t":37,"s":0.13,"m":"+"},{"p":"F","g":"r","t":40,"s":0.13,"m":"+"},{"p":"F","g":"r","t":42,"s":0.13,"m":"+"},{"p":"F","g":"r","t":45,"s":0.12,"m":"x"},{"p":"F","g":"r","t":46,"s":0.12,"m":"+"},{"p":"F","g":"r","t":48,"s":0.12,"m":"+"},{"p":"F","g":"r","t":49,"s":0.12,"m":"+"},{"p":"F","g":"r","t":54,"s":0.12,"m":"+"},{"p":"F","g":"r","t":55,"s":0.12,"m":"+"},{"p":"F","g":"r","t":65,"s":0.12,"m":"+"},{"p":"F","g":"r","t":70,"s":0.12,"m":"+"},{"p":"F","g":"r","t":73,"s":0.12,"m":"+"},{"p":"F","g":"r","t":86,"s":0.12,"m":"+"},
{"p":"F","g":"b","t":0,"s":1,"m":"x"},{"p":"F","g":"b","t":1,"s":1,"m":"+"},{"p":"F","g":"b","t":2,"s":0.99,"m":"x"},{"p":"F","g":"b","t":2.5,"s":0.975,"m":"x"},{"p":"F","g":"b","t":3,"s":0.955,"m":"x"},{"p":"F","g":"b","t":3.5,"s":0.93,"m":"x"},{"p":"F","g":"b","t":4,"s":0.905,"m":"x"},{"p":"F","g":"b","t":4.5,"s":0.875,"m":"x"},{"p":"F","g":"b","t":5,"s":0.845,"m":"x"},{"p":"F","g":"b","t":5.5,"s":0.82,"m":"x"},{"p":"F","g":"b","t":6,"s":0.795,"m":"x"},{"p":"F","g":"b","t":6.5,"s":0.775,"m":"x"},{"p":"F","g":"b","t":7,"s":0.755,"m":"x"},{"p":"F","g":"b","t":7.5,"s":0.74,"m":"x"},{"p":"F","g":"b","t":8,"s":0.72,"m":"x"},{"p":"F","g":"b","t":8.5,"s":0.705,"m":"x"},{"p":"F","g":"b","t":9,"s":0.69,"m":"x"},{"p":"F","g":"b","t":9.5,"s":0.665,"m":"x"},{"p":"F","g":"b","t":10,"s":0.64,"m":"x"},{"p":"F","g":"b","t":10.5,"s":0.62,"m":"x"},{"p":"F","g":"b","t":11,"s":0.6,"m":"x"},{"p":"F","g":"b","t":11.5,"s":0.58,"m":"x"},{"p":"F","g":"b","t":12,"s":0.56,"m":"x"},{"p":"F","g":"b","t":12.5,"s":0.54,"m":"x"},{"p":"F","g":"b","t":13,"s":0.515,"m":"x"},{"p":"F","g":"b","t":13.5,"s":0.495,"m":"x"},{"p":"F","g":"b","t":14,"s":0.475,"m":"x"},{"p":"F","g":"b","t":15,"s":0.45,"m":"x"},{"p":"F","g":"b","t":16,"s":0.425,"m":"x"},{"p":"F","g":"b","t":17,"s":0.405,"m":"x"},{"p":"F","g":"b","t":18,"s":0.39,"m":"x"},{"p":"F","g":"b","t":19,"s":0.375,"m":"x"},{"p":"F","g":"b","t":20,"s":0.36,"m":"x"},{"p":"F","g":"b","t":21,"s":0.35,"m":"x"},{"p":"F","g":"b","t":23,"s":0.345,"m":"+"},{"p":"F","g":"b","t":24,"s":0.345,"m":"+"},{"p":"F","g":"b","t":27,"s":0.345,"m":"x"},{"p":"F","g":"b","t":28.5,"s":0.345,"m":"+"},{"p":"F","g":"b","t":30,"s":0.34,"m":"x"},{"p":"F","g":"b","t":31,"s":0.335,"m":"x"},{"p":"F","g":"b","t":33,"s":0.335,"m":"+"},{"p":"F","g":"b","t":34,"s":0.335,"m":"+"},{"p":"F","g":"b","t":36,"s":0.33,"m":"x"},{"p":"F","g":"b","t":37,"s":0.32,"m":"x"},{"p":"F","g":"b","t":38,"s":0.31,"m":"x"},{"p":"F","g":"b","t":39,"s":0.3,"m":"x"},{"p":"F","g":"b","t":40,"s":0.29,"m":"x"},{"p":"F","g":"b","t":41,"s":0.28,"m":"x"},{"p":"F","g":"b","t":42,"s":0.27,"m":"x"},{"p":"F","g":"b","t":44,"s":0.265,"m":"+"},{"p":"F","g":"b","t":46,"s":0.265,"m":"+"},{"p":"F","g":"b","t":48,"s":0.26,"m":"x"},{"p":"F","g":"b","t":49,"s":0.26,"m":"+"},{"p":"F","g":"b","t":50,"s":0.255,"m":"x"},{"p":"F","g":"b","t":51,"s":0.255,"m":"+"},{"p":"F","g":"b","t":53,"s":0.255,"m":"+"},{"p":"F","g":"b","t":55,"s":0.255,"m":"+"},{"p":"F","g":"b","t":61,"s":0.255,"m":"+"},{"p":"F","g":"b","t":62,"s":0.255,"m":"+"},{"p":"F","g":"b","t":66,"s":0.255,"m":"+"},{"p":"F","g":"b","t":73,"s":0.255,"m":"+"},{"p":"F","g":"b","t":80,"s":0.255,"m":"+"},{"p":"F","g":"b","t":88,"s":0.255,"m":"+"},{"p":"F","g":"b","t":95.5,"s":0.255,"m":"+"},{"p":"F","g":"b","t":96,"s":0.255,"m":"+"},
{"p":"G","g":"r","t":3,"s":1,"m":"+"},{"p":"G","g":"r","t":4,"s":0.985,"m":"x"},{"p":"G","g":"r","t":5,"s":0.965,"m":"x"},{"p":"G","g":"r","t":6,"s":0.94,"m":"x"},{"p":"G","g":"r","t":7,"s":0.92,"m":"x"},{"p":"G","g":"r","t":8,"s":0.89,"m":"x"},{"p":"G","g":"r","t":9,"s":0.865,"m":"x"},{"p":"G","g":"r","t":10,"s":0.835,"m":"x"},{"p":"G","g":"r","t":10.5,"s":0.815,"m":"x"},{"p":"G","g":"r","t":11,"s":0.79,"m":"x"},{"p":"G","g":"r","t":11.5,"s":0.77,"m":"x"},{"p":"G","g":"r","t":12,"s":0.745,"m":"x"},{"p":"G","g":"r","t":12.5,"s":0.725,"m":"x"},{"p":"G","g":"r","t":13,"s":0.705,"m":"x"},{"p":"G","g":"r","t":14,"s":0.675,"m":"x"},{"p":"G","g":"r","t":15,"s":0.645,"m":"x"},{"p":"G","g":"r","t":16,"s":0.62,"m":"x"},{"p":"G","g":"r","t":17,"s":0.595,"m":"x"},{"p":"G","g":"r","t":18,"s":0.57,"m":"x"},{"p":"G","g":"r","t":19,"s":0.545,"m":"x"},{"p":"G","g":"r","t":20,"s":0.52,"m":"x"},{"p":"G","g":"r","t":21,"s":0.5,"m":"x"},{"p":"G","g":"r","t":22,"s":0.48,"m":"x"},{"p":"G","g":"r","t":23,"s":0.46,"m":"x"},{"p":"G","g":"r","t":24,"s":0.44,"m":"x"},{"p":"G","g":"r","t":25,"s":0.42,"m":"x"},{"p":"G","g":"r","t":26,"s":0.4,"m":"x"},{"p":"G","g":"r","t":27,"s":0.39,"m":"x"},{"p":"G","g":"r","t":28,"s":0.385,"m":"x"},{"p":"G","g":"r","t":29,"s":0.38,"m":"x"},{"p":"G","g":"r","t":30,"s":0.375,"m":"x"},{"p":"G","g":"r","t":31,"s":0.37,"m":"x"},{"p":"G","g":"r","t":32,"s":0.365,"m":"x"},{"p":"G","g":"r","t":33,"s":0.355,"m":"x"},{"p":"G","g":"r","t":34,"s":0.35,"m":"x"},{"p":"G","g":"r","t":35,"s":0.345,"m":"x"},{"p":"G","g":"r","t":36,"s":0.335,"m":"x"},{"p":"G","g":"r","t":37,"s":0.325,"m":"x"},{"p":"G","g":"r","t":38,"s":0.315,"m":"x"},{"p":"G","g":"r","t":39,"s":0.305,"m":"x"},{"p":"G","g":"r","t":40,"s":0.3,"m":"x"},{"p":"G","g":"r","t":41,"s":0.29,"m":"x"},{"p":"G","g":"r","t":42,"s":0.285,"m":"x"},{"p":"G","g":"r","t":43,"s":0.28,"m":"x"},{"p":"G","g":"r","t":44,"s":0.275,"m":"x"},{"p":"G","g":"r","t":45,"s":0.27,"m":"x"},{"p":"G","g":"r","t":46,"s":0.265,"m":"x"},{"p":"G","g":"r","t":47,"s":0.26,"m":"x"},{"p":"G","g":"r","t":48,"s":0.255,"m":"x"},{"p":"G","g":"r","t":49,"s":0.25,"m":"x"},{"p":"G","g":"r","t":50,"s":0.245,"m":"x"},{"p":"G","g":"r","t":51,"s":0.24,"m":"x"},{"p":"G","g":"r","t":52,"s":0.235,"m":"x"},{"p":"G","g":"r","t":53,"s":0.225,"m":"x"},{"p":"G","g":"r","t":54,"s":0.215,"m":"x"},{"p":"G","g":"r","t":55,"s":0.2,"m":"x"},{"p":"G","g":"r","t":63,"s":0.2,"m":"+"},{"p":"G","g":"r","t":65,"s":0.2,"m":"+"},{"p":"G","g":"r","t":67.5,"s":0.2,"m":"+"},{"p":"G","g":"r","t":70,"s":0.2,"m":"+"},{"p":"G","g":"r","t":72,"s":0.2,"m":"+"},{"p":"G","g":"r","t":73,"s":0.2,"m":"+"},{"p":"G","g":"r","t":77,"s":0.2,"m":"+"},{"p":"G","g":"r","t":85,"s":0.2,"m":"+"},
{"p":"G","g":"b","t":0,"s":1,"m":"+"},{"p":"G","g":"b","t":1,"s":1,"m":"+"},{"p":"G","g":"b","t":3,"s":0.995,"m":"x"},{"p":"G","g":"b","t":4,"s":0.99,"m":"x"},{"p":"G","g":"b","t":5,"s":0.985,"m":"x"},{"p":"G","g":"b","t":6,"s":0.98,"m":"x"},{"p":"G","g":"b","t":7,"s":0.975,"m":"x"},{"p":"G","g":"b","t":8,"s":0.96,"m":"x"},{"p":"G","g":"b","t":9,"s":0.94,"m":"x"},{"p":"G","g":"b","t":10,"s":0.915,"m":"x"},{"p":"G","g":"b","t":11,"s":0.89,"m":"x"},{"p":"G","g":"b","t":12,"s":0.86,"m":"x"},{"p":"G","g":"b","t":13,"s":0.83,"m":"x"},{"p":"G","g":"b","t":14,"s":0.8,"m":"x"},{"p":"G","g":"b","t":15,"s":0.77,"m":"x"},{"p":"G","g":"b","t":16,"s":0.75,"m":"x"},{"p":"G","g":"b","t":17,"s":0.735,"m":"x"},{"p":"G","g":"b","t":18,"s":0.72,"m":"x"},{"p":"G","g":"b","t":19,"s":0.7,"m":"x"},{"p":"G","g":"b","t":20,"s":0.685,"m":"x"},{"p":"G","g":"b","t":21,"s":0.67,"m":"x"},{"p":"G","g":"b","t":22,"s":0.655,"m":"x"},{"p":"G","g":"b","t":23,"s":0.635,"m":"x"},{"p":"G","g":"b","t":24,"s":0.61,"m":"x"},{"p":"G","g":"b","t":25,"s":0.595,"m":"x"},{"p":"G","g":"b","t":26,"s":0.58,"m":"x"},{"p":"G","g":"b","t":27,"s":0.565,"m":"x"},{"p":"G","g":"b","t":28,"s":0.545,"m":"x"},{"p":"G","g":"b","t":29,"s":0.53,"m":"x"},{"p":"G","g":"b","t":30,"s":0.515,"m":"x"},{"p":"G","g":"b","t":31,"s":0.5,"m":"x"},{"p":"G","g":"b","t":32,"s":0.49,"m":"x"},{"p":"G","g":"b","t":33,"s":0.475,"m":"x"},{"p":"G","g":"b","t":34,"s":0.46,"m":"x"},{"p":"G","g":"b","t":35,"s":0.44,"m":"x"},{"p":"G","g":"b","t":36,"s":0.415,"m":"x"},{"p":"G","g":"b","t":37,"s":0.4,"m":"x"},{"p":"G","g":"b","t":38,"s":0.39,"m":"x"},{"p":"G","g":"b","t":39,"s":0.39,"m":"+"},{"p":"G","g":"b","t":40,"s":0.385,"m":"x"},{"p":"G","g":"b","t":41,"s":0.375,"m":"x"},{"p":"G","g":"b","t":42,"s":0.365,"m":"x"},{"p":"G","g":"b","t":43,"s":0.36,"m":"x"},{"p":"G","g":"b","t":44,"s":0.355,"m":"x"},{"p":"G","g":"b","t":45,"s":0.355,"m":"+"},{"p":"G","g":"b","t":46,"s":0.35,"m":"x"},{"p":"G","g":"b","t":47,"s":0.345,"m":"x"},{"p":"G","g":"b","t":48,"s":0.34,"m":"x"},{"p":"G","g":"b","t":49,"s":0.335,"m":"x"},{"p":"G","g":"b","t":50,"s":0.33,"m":"x"},{"p":"G","g":"b","t":51,"s":0.325,"m":"x"},{"p":"G","g":"b","t":52,"s":0.315,"m":"x"},{"p":"G","g":"b","t":53,"s":0.31,"m":"x"},{"p":"G","g":"b","t":54,"s":0.3,"m":"x"},{"p":"G","g":"b","t":55,"s":0.3,"m":"+"},{"p":"G","g":"b","t":56,"s":0.3,"m":"+"},{"p":"G","g":"b","t":57,"s":0.3,"m":"+"},{"p":"G","g":"b","t":60,"s":0.3,"m":"+"},{"p":"G","g":"b","t":61.5,"s":0.3,"m":"+"},{"p":"G","g":"b","t":63,"s":0.3,"m":"+"},{"p":"G","g":"b","t":64.5,"s":0.3,"m":"+"},{"p":"G","g":"b","t":77,"s":0.3,"m":"+"},{"p":"G","g":"b","t":87,"s":0.3,"m":"+"},{"p":"G","g":"b","t":95,"s":0.3,"m":"+"},{"p":"G","g":"b","t":95.5,"s":0.3,"m":"+"},{"p":"G","g":"b","t":96,"s":0.3,"m":"+"},
{"p":"H","g":"r","t":0,"s":1,"m":"x"},{"p":"H","g":"r","t":0.5,"s":0.99,"m":"x"},{"p":"H","g":"r","t":1,"s":0.97,"m":"x"},{"p":"H","g":"r","t":1.5,"s":0.95,"m":"x"},{"p":"H","g":"r","t":2,"s":0.92,"m":"x"},{"p":"H","g":"r","t":2.5,"s":0.88,"m":"x"},{"p":"H","g":"r","t":3,"s":0.845,"m":"x"},{"p":"H","g":"r","t":3.5,"s":0.8,"m":"x"},{"p":"H","g":"r","t":4,"s":0.76,"m":"x"},{"p":"H","g":"r","t":4.5,"s":0.72,"m":"x"},{"p":"H","g":"r","t":5,"s":0.685,"m":"x"},{"p":"H","g":"r","t":5.5,"s":0.65,"m":"x"},{"p":"H","g":"r","t":6,"s":0.62,"m":"x"},{"p":"H","g":"r","t":6.5,"s":0.59,"m":"x"},{"p":"H","g":"r","t":7,"s":0.565,"m":"x"},{"p":"H","g":"r","t":7.5,"s":0.54,"m":"x"},{"p":"H","g":"r","t":8,"s":0.52,"m":"x"},{"p":"H","g":"r","t":8.5,"s":0.5,"m":"x"},{"p":"H","g":"r","t":9,"s":0.48,"m":"x"},{"p":"H","g":"r","t":9.5,"s":0.465,"m":"x"},{"p":"H","g":"r","t":10,"s":0.445,"m":"x"},{"p":"H","g":"r","t":11,"s":0.415,"m":"x"},{"p":"H","g":"r","t":12,"s":0.385,"m":"x"},{"p":"H","g":"r","t":13,"s":0.36,"m":"x"},{"p":"H","g":"r","t":14,"s":0.34,"m":"x"},{"p":"H","g":"r","t":15,"s":0.325,"m":"x"},{"p":"H","g":"r","t":16,"s":0.315,"m":"x"},{"p":"H","g":"r","t":17,"s":0.3,"m":"x"},{"p":"H","g":"r","t":18,"s":0.29,"m":"x"},{"p":"H","g":"r","t":19,"s":0.285,"m":"x"},{"p":"H","g":"r","t":20,"s":0.28,"m":"x"},{"p":"H","g":"r","t":22,"s":0.27,"m":"x"},{"p":"H","g":"r","t":24,"s":0.265,"m":"x"},{"p":"H","g":"r","t":26,"s":0.255,"m":"x"},{"p":"H","g":"r","t":28,"s":0.25,"m":"x"},{"p":"H","g":"r","t":30,"s":0.24,"m":"x"},{"p":"H","g":"r","t":32,"s":0.235,"m":"x"},{"p":"H","g":"r","t":34,"s":0.225,"m":"x"},{"p":"H","g":"r","t":36,"s":0.22,"m":"x"},{"p":"H","g":"r","t":38,"s":0.21,"m":"x"},{"p":"H","g":"r","t":39,"s":0.205,"m":"x"},{"p":"H","g":"r","t":40,"s":0.2,"m":"+"},{"p":"H","g":"r","t":42,"s":0.2,"m":"x"},{"p":"H","g":"r","t":45,"s":0.19,"m":"x"},{"p":"H","g":"r","t":48,"s":0.19,"m":"+"},{"p":"H","g":"r","t":50,"s":0.19,"m":"+"},{"p":"H","g":"r","t":60,"s":0.19,"m":"+"},{"p":"H","g":"r","t":65,"s":0.19,"m":"+"},{"p":"H","g":"r","t":68,"s":0.19,"m":"+"},{"p":"H","g":"r","t":72,"s":0.19,"m":"+"},{"p":"H","g":"r","t":73,"s":0.19,"m":"+"},{"p":"H","g":"r","t":86,"s":0.19,"m":"+"},{"p":"H","g":"r","t":88,"s":0.19,"m":"+"},
{"p":"H","g":"b","t":0,"s":1,"m":"x"},{"p":"H","g":"b","t":1,"s":1,"m":"+"},{"p":"H","g":"b","t":2,"s":0.99,"m":"x"},{"p":"H","g":"b","t":2.5,"s":0.98,"m":"x"},{"p":"H","g":"b","t":3,"s":0.95,"m":"x"},{"p":"H","g":"b","t":3.5,"s":0.91,"m":"x"},{"p":"H","g":"b","t":4,"s":0.87,"m":"x"},{"p":"H","g":"b","t":4.5,"s":0.83,"m":"x"},{"p":"H","g":"b","t":5,"s":0.79,"m":"x"},{"p":"H","g":"b","t":5.5,"s":0.75,"m":"x"},{"p":"H","g":"b","t":6,"s":0.72,"m":"x"},{"p":"H","g":"b","t":6.5,"s":0.69,"m":"x"},{"p":"H","g":"b","t":7,"s":0.665,"m":"x"},{"p":"H","g":"b","t":7.5,"s":0.645,"m":"x"},{"p":"H","g":"b","t":8,"s":0.625,"m":"x"},{"p":"H","g":"b","t":8.5,"s":0.6,"m":"x"},{"p":"H","g":"b","t":9,"s":0.58,"m":"x"},{"p":"H","g":"b","t":9.5,"s":0.56,"m":"x"},{"p":"H","g":"b","t":10,"s":0.54,"m":"x"},{"p":"H","g":"b","t":10.5,"s":0.52,"m":"x"},{"p":"H","g":"b","t":11,"s":0.5,"m":"x"},{"p":"H","g":"b","t":12,"s":0.475,"m":"x"},{"p":"H","g":"b","t":13,"s":0.455,"m":"x"},{"p":"H","g":"b","t":14,"s":0.43,"m":"x"},{"p":"H","g":"b","t":15,"s":0.41,"m":"x"},{"p":"H","g":"b","t":16,"s":0.385,"m":"x"},{"p":"H","g":"b","t":17,"s":0.37,"m":"x"},{"p":"H","g":"b","t":18,"s":0.35,"m":"x"},{"p":"H","g":"b","t":19,"s":0.335,"m":"x"},{"p":"H","g":"b","t":20,"s":0.32,"m":"x"},{"p":"H","g":"b","t":21,"s":0.31,"m":"x"},{"p":"H","g":"b","t":22,"s":0.3,"m":"x"},{"p":"H","g":"b","t":23,"s":0.29,"m":"x"},{"p":"H","g":"b","t":24,"s":0.28,"m":"x"},{"p":"H","g":"b","t":26,"s":0.275,"m":"x"},{"p":"H","g":"b","t":27,"s":0.265,"m":"x"},{"p":"H","g":"b","t":28,"s":0.26,"m":"x"},{"p":"H","g":"b","t":30,"s":0.255,"m":"+"},{"p":"H","g":"b","t":32,"s":0.255,"m":"+"},{"p":"H","g":"b","t":34,"s":0.25,"m":"x"},{"p":"H","g":"b","t":36,"s":0.245,"m":"x"},{"p":"H","g":"b","t":38,"s":0.24,"m":"x"},{"p":"H","g":"b","t":39,"s":0.235,"m":"x"},{"p":"H","g":"b","t":40,"s":0.23,"m":"x"},{"p":"H","g":"b","t":41,"s":0.22,"m":"x"},{"p":"H","g":"b","t":42,"s":0.215,"m":"x"},{"p":"H","g":"b","t":43,"s":0.21,"m":"+"},{"p":"H","g":"b","t":44,"s":0.205,"m":"x"},{"p":"H","g":"b","t":45,"s":0.2,"m":"x"},{"p":"H","g":"b","t":46,"s":0.2,"m":"+"},{"p":"H","g":"b","t":47,"s":0.2,"m":"+"},{"p":"H","g":"b","t":49,"s":0.195,"m":"x"},{"p":"H","g":"b","t":50,"s":0.19,"m":"x"},{"p":"H","g":"b","t":52,"s":0.19,"m":"+"},{"p":"H","g":"b","t":53,"s":0.19,"m":"+"},{"p":"H","g":"b","t":54,"s":0.19,"m":"+"},{"p":"H","g":"b","t":55,"s":0.19,"m":"+"},{"p":"H","g":"b","t":61,"s":0.19,"m":"+"},{"p":"H","g":"b","t":62,"s":0.19,"m":"+"},{"p":"H","g":"b","t":63,"s":0.19,"m":"+"},{"p":"H","g":"b","t":65,"s":0.19,"m":"+"},{"p":"H","g":"b","t":78,"s":0.19,"m":"+"},{"p":"H","g":"b","t":95,"s":0.19,"m":"+"},{"p":"H","g":"b","t":95.5,"s":0.19,"m":"+"},{"p":"H","g":"b","t":96,"s":0.19,"m":"+"},
{"p":"I","g":"r","t":0,"s":1,"m":"+"},{"p":"I","g":"r","t":1,"s":1,"m":"+"},{"p":"I","g":"r","t":3,"s":0.995,"m":"x"},{"p":"I","g":"r","t":4,"s":0.99,"m":"x"},{"p":"I","g":"r","t":5,"s":0.985,"m":"x"},{"p":"I","g":"r","t":6,"s":0.97,"m":"x"},{"p":"I","g":"r","t":7,"s":0.955,"m":"x"},{"p":"I","g":"r","t":8,"s":0.935,"m":"x"},{"p":"I","g":"r","t":9,"s":0.91,"m":"x"},{"p":"I","g":"r","t":10,"s":0.875,"m":"x"},{"p":"I","g":"r","t":11,"s":0.845,"m":"x"},{"p":"I","g":"r","t":12,"s":0.8,"m":"x"},{"p":"I","g":"r","t":13,"s":0.765,"m":"x"},{"p":"I","g":"r","t":14,"s":0.73,"m":"x"},{"p":"I","g":"r","t":15,"s":0.705,"m":"x"},{"p":"I","g":"r","t":16,"s":0.685,"m":"x"},{"p":"I","g":"r","t":17,"s":0.665,"m":"x"},{"p":"I","g":"r","t":18,"s":0.64,"m":"x"},{"p":"I","g":"r","t":19,"s":0.615,"m":"x"},{"p":"I","g":"r","t":20,"s":0.595,"m":"x"},{"p":"I","g":"r","t":21,"s":0.575,"m":"x"},{"p":"I","g":"r","t":22,"s":0.55,"m":"x"},{"p":"I","g":"r","t":23,"s":0.53,"m":"x"},{"p":"I","g":"r","t":24,"s":0.505,"m":"x"},{"p":"I","g":"r","t":25,"s":0.485,"m":"x"},{"p":"I","g":"r","t":26,"s":0.47,"m":"x"},{"p":"I","g":"r","t":27,"s":0.46,"m":"x"},{"p":"I","g":"r","t":28,"s":0.455,"m":"x"},{"p":"I","g":"r","t":29,"s":0.45,"m":"x"},{"p":"I","g":"r","t":30,"s":0.445,"m":"x"},{"p":"I","g":"r","t":31,"s":0.44,"m":"x"},{"p":"I","g":"r","t":32,"s":0.43,"m":"x"},{"p":"I","g":"r","t":33,"s":0.42,"m":"x"},{"p":"I","g":"r","t":34,"s":0.41,"m":"x"},{"p":"I","g":"r","t":35,"s":0.4,"m":"x"},{"p":"I","g":"r","t":36,"s":0.395,"m":"x"},{"p":"I","g":"r","t":37,"s":0.39,"m":"x"},{"p":"I","g":"r","t":38,"s":0.38,"m":"x"},{"p":"I","g":"r","t":39,"s":0.37,"m":"x"},{"p":"I","g":"r","t":40,"s":0.365,"m":"x"},{"p":"I","g":"r","t":41,"s":0.36,"m":"x"},{"p":"I","g":"r","t":42,"s":0.35,"m":"x"},{"p":"I","g":"r","t":43,"s":0.345,"m":"x"},{"p":"I","g":"r","t":44,"s":0.34,"m":"+"},{"p":"I","g":"r","t":45,"s":0.34,"m":"x"},{"p":"I","g":"r","t":46,"s":0.34,"m":"+"},{"p":"I","g":"r","t":48,"s":0.34,"m":"+"},{"p":"I","g":"r","t":50,"s":0.34,"m":"+"},{"p":"I","g":"r","t":51,"s":0.335,"m":"x"},{"p":"I","g":"r","t":52,"s":0.32,"m":"x"},{"p":"I","g":"r","t":53,"s":0.305,"m":"x"},{"p":"I","g":"r","t":54,"s":0.3,"m":"+"},{"p":"I","g":"r","t":55,"s":0.3,"m":"+"},{"p":"I","g":"r","t":56,"s":0.3,"m":"+"},{"p":"I","g":"r","t":60,"s":0.3,"m":"+"},{"p":"I","g":"r","t":62,"s":0.3,"m":"+"},{"p":"I","g":"r","t":64.5,"s":0.3,"m":"+"},{"p":"I","g":"r","t":72.5,"s":0.3,"m":"+"},{"p":"I","g":"r","t":78,"s":0.3,"m":"+"},{"p":"I","g":"r","t":86,"s":0.3,"m":"+"},{"p":"I","g":"r","t":87,"s":0.3,"m":"+"},{"p":"I","g":"r","t":96,"s":0.3,"m":"+"},
{"p":"I","g":"b","t":3,"s":0.99,"m":"x"},{"p":"I","g":"b","t":4,"s":0.985,"m":"x"},{"p":"I","g":"b","t":5,"s":0.975,"m":"x"},{"p":"I","g":"b","t":6,"s":0.96,"m":"x"},{"p":"I","g":"b","t":7,"s":0.94,"m":"x"},{"p":"I","g":"b","t":8,"s":0.915,"m":"x"},{"p":"I","g":"b","t":9,"s":0.885,"m":"x"},{"p":"I","g":"b","t":10,"s":0.85,"m":"x"},{"p":"I","g":"b","t":11,"s":0.81,"m":"x"},{"p":"I","g":"b","t":12,"s":0.77,"m":"x"},{"p":"I","g":"b","t":13,"s":0.745,"m":"x"},{"p":"I","g":"b","t":14,"s":0.72,"m":"x"},{"p":"I","g":"b","t":15,"s":0.7,"m":"x"},{"p":"I","g":"b","t":16,"s":0.68,"m":"x"},{"p":"I","g":"b","t":17,"s":0.655,"m":"x"},{"p":"I","g":"b","t":18,"s":0.63,"m":"x"},{"p":"I","g":"b","t":19,"s":0.605,"m":"x"},{"p":"I","g":"b","t":20,"s":0.585,"m":"x"},{"p":"I","g":"b","t":21,"s":0.565,"m":"x"},{"p":"I","g":"b","t":22,"s":0.545,"m":"x"},{"p":"I","g":"b","t":23,"s":0.52,"m":"x"},{"p":"I","g":"b","t":24,"s":0.49,"m":"x"},{"p":"I","g":"b","t":25,"s":0.47,"m":"x"},{"p":"I","g":"b","t":26,"s":0.46,"m":"x"},{"p":"I","g":"b","t":27,"s":0.45,"m":"x"},{"p":"I","g":"b","t":28,"s":0.44,"m":"x"},{"p":"I","g":"b","t":29,"s":0.435,"m":"x"},{"p":"I","g":"b","t":30,"s":0.43,"m":"x"},{"p":"I","g":"b","t":31,"s":0.42,"m":"x"},{"p":"I","g":"b","t":32,"s":0.41,"m":"x"},{"p":"I","g":"b","t":33,"s":0.4,"m":"x"},{"p":"I","g":"b","t":34,"s":0.39,"m":"x"},{"p":"I","g":"b","t":35,"s":0.375,"m":"x"},{"p":"I","g":"b","t":36,"s":0.36,"m":"x"},{"p":"I","g":"b","t":37,"s":0.345,"m":"x"},{"p":"I","g":"b","t":38,"s":0.34,"m":"x"},{"p":"I","g":"b","t":39,"s":0.335,"m":"+"},{"p":"I","g":"b","t":40,"s":0.33,"m":"x"},{"p":"I","g":"b","t":41,"s":0.325,"m":"x"},{"p":"I","g":"b","t":42,"s":0.32,"m":"x"},{"p":"I","g":"b","t":43,"s":0.315,"m":"x"},{"p":"I","g":"b","t":44,"s":0.31,"m":"x"},{"p":"I","g":"b","t":45,"s":0.305,"m":"x"},{"p":"I","g":"b","t":46,"s":0.295,"m":"x"},{"p":"I","g":"b","t":47,"s":0.285,"m":"x"},{"p":"I","g":"b","t":48,"s":0.275,"m":"x"},{"p":"I","g":"b","t":49,"s":0.26,"m":"x"},{"p":"I","g":"b","t":50,"s":0.25,"m":"x"},{"p":"I","g":"b","t":51,"s":0.24,"m":"x"},{"p":"I","g":"b","t":52,"s":0.23,"m":"x"},{"p":"I","g":"b","t":53,"s":0.23,"m":"+"},{"p":"I","g":"b","t":54,"s":0.21,"m":"x"},{"p":"I","g":"b","t":55,"s":0.18,"m":"x"},{"p":"I","g":"b","t":58,"s":0.18,"m":"+"},{"p":"I","g":"b","t":61,"s":0.18,"m":"+"},{"p":"I","g":"b","t":62,"s":0.18,"m":"+"},{"p":"I","g":"b","t":63,"s":0.18,"m":"+"},{"p":"I","g":"b","t":69,"s":0.18,"m":"+"},{"p":"I","g":"b","t":69.5,"s":0.18,"m":"+"},{"p":"I","g":"b","t":70,"s":0.18,"m":"+"},{"p":"I","g":"b","t":70.5,"s":0.18,"m":"+"},
{"p":"J","g":"r","t":0,"s":1,"m":"x"},{"p":"J","g":"r","t":0.5,"s":1,"m":"+"},{"p":"J","g":"r","t":1,"s":0.995,"m":"x"},{"p":"J","g":"r","t":1.5,"s":0.99,"m":"x"},{"p":"J","g":"r","t":2,"s":0.975,"m":"x"},{"p":"J","g":"r","t":2.5,"s":0.95,"m":"x"},{"p":"J","g":"r","t":3,"s":0.91,"m":"x"},{"p":"J","g":"r","t":3.5,"s":0.87,"m":"x"},{"p":"J","g":"r","t":4,"s":0.82,"m":"x"},{"p":"J","g":"r","t":4.5,"s":0.785,"m":"x"},{"p":"J","g":"r","t":5,"s":0.755,"m":"x"},{"p":"J","g":"r","t":5.5,"s":0.725,"m":"x"},{"p":"J","g":"r","t":6,"s":0.7,"m":"x"},{"p":"J","g":"r","t":6.5,"s":0.68,"m":"x"},{"p":"J","g":"r","t":7,"s":0.66,"m":"x"},{"p":"J","g":"r","t":7.5,"s":0.64,"m":"x"},{"p":"J","g":"r","t":8,"s":0.625,"m":"x"},{"p":"J","g":"r","t":8.5,"s":0.61,"m":"x"},{"p":"J","g":"r","t":9,"s":0.595,"m":"x"},{"p":"J","g":"r","t":9.5,"s":0.585,"m":"x"},{"p":"J","g":"r","t":10,"s":0.57,"m":"x"},{"p":"J","g":"r","t":10.5,"s":0.555,"m":"x"},{"p":"J","g":"r","t":11,"s":0.54,"m":"x"},{"p":"J","g":"r","t":11.5,"s":0.52,"m":"x"},{"p":"J","g":"r","t":12,"s":0.495,"m":"x"},{"p":"J","g":"r","t":12.5,"s":0.475,"m":"x"},{"p":"J","g":"r","t":13,"s":0.455,"m":"x"},{"p":"J","g":"r","t":13.5,"s":0.44,"m":"x"},{"p":"J","g":"r","t":14,"s":0.42,"m":"x"},{"p":"J","g":"r","t":15,"s":0.4,"m":"x"},{"p":"J","g":"r","t":16,"s":0.38,"m":"x"},{"p":"J","g":"r","t":17,"s":0.365,"m":"x"},{"p":"J","g":"r","t":18,"s":0.355,"m":"x"},{"p":"J","g":"r","t":19,"s":0.345,"m":"x"},{"p":"J","g":"r","t":20,"s":0.34,"m":"x"},{"p":"J","g":"r","t":21,"s":0.335,"m":"x"},{"p":"J","g":"r","t":22,"s":0.33,"m":"x"},{"p":"J","g":"r","t":23,"s":0.325,"m":"x"},{"p":"J","g":"r","t":24,"s":0.32,"m":"x"},{"p":"J","g":"r","t":25,"s":0.315,"m":"x"},{"p":"J","g":"r","t":26,"s":0.31,"m":"x"},{"p":"J","g":"r","t":27,"s":0.305,"m":"x"},{"p":"J","g":"r","t":28,"s":0.3,"m":"x"},{"p":"J","g":"r","t":29,"s":0.295,"m":"x"},{"p":"J","g":"r","t":30,"s":0.29,"m":"x"},{"p":"J","g":"r","t":32,"s":0.285,"m":"x"},{"p":"J","g":"r","t":34,"s":0.28,"m":"x"},{"p":"J","g":"r","t":35,"s":0.275,"m":"x"},{"p":"J","g":"r","t":36,"s":0.27,"m":"x"},{"p":"J","g":"r","t":38,"s":0.265,"m":"x"},{"p":"J","g":"r","t":40,"s":0.26,"m":"x"},{"p":"J","g":"r","t":41,"s":0.25,"m":"x"},{"p":"J","g":"r","t":43,"s":0.24,"m":"x"},{"p":"J","g":"r","t":45,"s":0.235,"m":"x"},{"p":"J","g":"r","t":46,"s":0.23,"m":"x"},{"p":"J","g":"r","t":47,"s":0.23,"m":"+"},{"p":"J","g":"r","t":50,"s":0.23,"m":"+"},{"p":"J","g":"r","t":51,"s":0.23,"m":"+"},{"p":"J","g":"r","t":52,"s":0.23,"m":"+"},{"p":"J","g":"r","t":53.5,"s":0.23,"m":"+"},{"p":"J","g":"r","t":55,"s":0.23,"m":"+"},{"p":"J","g":"r","t":61,"s":0.23,"m":"+"},{"p":"J","g":"r","t":67,"s":0.23,"m":"+"},{"p":"J","g":"r","t":73,"s":0.23,"m":"+"},{"p":"J","g":"r","t":73.5,"s":0.23,"m":"+"},{"p":"J","g":"r","t":80,"s":0.23,"m":"+"},{"p":"J","g":"r","t":87,"s":0.23,"m":"+"},{"p":"J","g":"r","t":88,"s":0.23,"m":"+"},{"p":"J","g":"r","t":96,"s":0.23,"m":"+"},
{"p":"J","g":"b","t":0,"s":1,"m":"x"},{"p":"J","g":"b","t":0.5,"s":0.985,"m":"x"},{"p":"J","g":"b","t":1,"s":0.97,"m":"x"},{"p":"J","g":"b","t":1.5,"s":0.955,"m":"x"},{"p":"J","g":"b","t":2,"s":0.94,"m":"x"},{"p":"J","g":"b","t":2.5,"s":0.91,"m":"x"},{"p":"J","g":"b","t":3,"s":0.875,"m":"x"},{"p":"J","g":"b","t":3.5,"s":0.835,"m":"x"},{"p":"J","g":"b","t":4,"s":0.8,"m":"x"},{"p":"J","g":"b","t":4.5,"s":0.765,"m":"x"},{"p":"J","g":"b","t":5,"s":0.725,"m":"x"},{"p":"J","g":"b","t":5.5,"s":0.69,"m":"x"},{"p":"J","g":"b","t":6,"s":0.655,"m":"x"},{"p":"J","g":"b","t":6.5,"s":0.625,"m":"x"},{"p":"J","g":"b","t":7,"s":0.595,"m":"x"},{"p":"J","g":"b","t":7.5,"s":0.57,"m":"x"},{"p":"J","g":"b","t":8,"s":0.55,"m":"x"},{"p":"J","g":"b","t":8.5,"s":0.53,"m":"x"},{"p":"J","g":"b","t":9,"s":0.51,"m":"x"},{"p":"J","g":"b","t":9.5,"s":0.49,"m":"x"},{"p":"J","g":"b","t":10,"s":0.475,"m":"x"},{"p":"J","g":"b","t":10.5,"s":0.46,"m":"x"},{"p":"J","g":"b","t":11,"s":0.445,"m":"x"},{"p":"J","g":"b","t":12,"s":0.42,"m":"x"},{"p":"J","g":"b","t":13,"s":0.395,"m":"x"},{"p":"J","g":"b","t":14,"s":0.375,"m":"x"},{"p":"J","g":"b","t":15,"s":0.355,"m":"x"},{"p":"J","g":"b","t":16,"s":0.335,"m":"x"},{"p":"J","g":"b","t":17,"s":0.32,"m":"x"},{"p":"J","g":"b","t":18,"s":0.305,"m":"x"},{"p":"J","g":"b","t":19,"s":0.29,"m":"x"},{"p":"J","g":"b","t":20,"s":0.28,"m":"x"},{"p":"J","g":"b","t":21,"s":0.27,"m":"x"},{"p":"J","g":"b","t":22,"s":0.26,"m":"x"},{"p":"J","g":"b","t":23,"s":0.25,"m":"x"},{"p":"J","g":"b","t":24,"s":0.24,"m":"x"},{"p":"J","g":"b","t":25,"s":0.235,"m":"x"},{"p":"J","g":"b","t":26,"s":0.225,"m":"x"},{"p":"J","g":"b","t":27,"s":0.22,"m":"x"},{"p":"J","g":"b","t":28,"s":0.215,"m":"x"},{"p":"J","g":"b","t":29,"s":0.215,"m":"+"},{"p":"J","g":"b","t":31,"s":0.215,"m":"+"},{"p":"J","g":"b","t":33,"s":0.205,"m":"x"},{"p":"J","g":"b","t":35,"s":0.2,"m":"x"},{"p":"J","g":"b","t":37,"s":0.195,"m":"x"},{"p":"J","g":"b","t":38,"s":0.19,"m":"x"},{"p":"J","g":"b","t":39,"s":0.18,"m":"x"},{"p":"J","g":"b","t":40,"s":0.175,"m":"x"},{"p":"J","g":"b","t":42,"s":0.165,"m":"x"},{"p":"J","g":"b","t":44,"s":0.16,"m":"+"},{"p":"J","g":"b","t":45,"s":0.16,"m":"+"},{"p":"J","g":"b","t":47,"s":0.155,"m":"x"},{"p":"J","g":"b","t":48,"s":0.155,"m":"+"},{"p":"J","g":"b","t":50,"s":0.138,"m":"x"},{"p":"J","g":"b","t":53,"s":0.138,"m":"+"},{"p":"J","g":"b","t":57,"s":0.138,"m":"+"},{"p":"J","g":"b","t":62,"s":0.138,"m":"+"},{"p":"J","g":"b","t":64,"s":0.138,"m":"+"},{"p":"J","g":"b","t":65,"s":0.138,"m":"+"},{"p":"J","g":"b","t":66,"s":0.138,"m":"+"},{"p":"J","g":"b","t":69,"s":0.138,"m":"+"},{"p":"J","g":"b","t":70,"s":0.138,"m":"+"},{"p":"J","g":"b","t":71,"s":0.138,"m":"+"}
]},
"config":{
 "font":"Liberation Sans",
 "view":{"stroke":"#000","strokeWidth":1.5},
 "axis":{"labelFont":"Liberation Sans","titleFont":"Liberation Sans","labelFontSize":18,"titleFontSize":19,"titleFontWeight":"normal","labelColor":"#000","titleColor":"#000","tickColor":"#000","tickWidth":1,"domain":false,"grid":false,"labelOverlap":false,"labelBound":false,"labelFlush":false},
 "axisX":{"labelPadding":5,"titlePadding":0},
 "axisY":{"titlePadding":7},
 "text":{"font":"Liberation Sans","fontSize":19,"color":"#000"}
},
"spacing":0,
"vconcat":[
{"hconcat":[
{"width":304,"height":204,"layer":[
 {"data":{"name":"km"},"transform":[{"filter":"datum.p==='A'"}],"mark":{"type":"line","interpolate":"step-after","strokeWidth":1},"encoding":{"x":{"field":"t","type":"quantitative","scale":{"domain":[-5,105],"nice":false,"zero":false},"axis":{"title":"Time after surgery (Months)","values":[0,6,12,18,24,30,36,42,48,54,60,66,72,78,84,90,96,102],"labelExpr":"datum.value % 24 === 0 ? datum.label : ''","tickSize":{"condition":{"test":"datum.value % 24 === 0","value":5},"value":3}}},"y":{"field":"s","type":"quantitative","scale":{"domain":[-0.08,1.085],"nice":false,"zero":false},"axis":{"title":"Survival rate","values":[0,0.1,0.2,0.3,0.4,0.5,0.6,0.7,0.8,0.9,1],"labelExpr":"datum.value === 0 ? '0' : (round(datum.value*10) % 2 === 0 ? format(datum.value, '.1f') : '')","tickSize":{"condition":{"test":"round(datum.value*10) % 2 === 0","value":5},"value":3},"labelPadding":{"condition":{"test":"datum.value === 0","value":9},"value":4}}},"color":{"field":"g","type":"nominal","scale":{"domain":["r","b"],"range":["#ff0000","#0000ff"]},"legend":null},"order":{"field":"t","type":"quantitative"}}},
 {"data":{"name":"km"},"transform":[{"filter":"datum.p==='A'"}],"mark":{"type":"point","filled":false,"strokeWidth":1,"size":42,"opacity":0.85},"encoding":{"x":{"field":"t","type":"quantitative"},"y":{"field":"s","type":"quantitative"},"color":{"field":"g","type":"nominal","legend":null},"shape":{"field":"m","type":"nominal","scale":{"domain":["x","+"],"range":["M-1,-1L1,1M-1,1L1,-1","M-1,0L1,0M0,-1L0,1"]},"legend":null}}},
 {"data":{"values":[{}]},"mark":{"type":"text","align":"left","baseline":"alphabetic","fontWeight":"bold"},"encoding":{"x":{"datum":-26.7},"y":{"datum":1.011},"text":{"value":"A"}}},
 {"data":{"values":[{}]},"mark":{"type":"text","align":"left","baseline":"alphabetic"},"encoding":{"x":{"datum":31.2},"y":{"datum":0.965},"text":{"value":"Expression of"}}},
 {"data":{"values":[{}]},"mark":{"type":"text","align":"left","baseline":"alphabetic","fontStyle":"italic","dx":122},"encoding":{"x":{"datum":31.2},"y":{"datum":0.965},"text":{"value":"CD3"}}},
 {"data":{"values":[{}]},"mark":{"type":"text","align":"left","baseline":"alphabetic","fontStyle":"italic"},"encoding":{"x":{"datum":31.2},"y":{"datum":0.855},"text":{"value":"P"}}},
 {"data":{"values":[{}]},"mark":{"type":"text","align":"left","baseline":"alphabetic","dx":18},"encoding":{"x":{"datum":31.2},"y":{"datum":0.855},"text":{"value":"= 0.003"}}}
]},
{"width":304,"height":204,"layer":[
 {"data":{"name":"km"},"transform":[{"filter":"datum.p==='B'"}],"mark":{"type":"line","interpolate":"step-after","strokeWidth":1},"encoding":{"x":{"field":"t","type":"quantitative","scale":{"domain":[-5,105],"nice":false,"zero":false},"axis":{"title":"Time after surgery (Months)","values":[0,6,12,18,24,30,36,42,48,54,60,66,72,78,84,90,96,102],"labelExpr":"datum.value % 24 === 0 ? datum.label : ''","tickSize":{"condition":{"test":"datum.value % 24 === 0","value":5},"value":3}}},"y":{"field":"s","type":"quantitative","scale":{"domain":[-0.08,1.085],"nice":false,"zero":false},"axis":{"title":"Survival rate","values":[0,0.1,0.2,0.3,0.4,0.5,0.6,0.7,0.8,0.9,1],"labelExpr":"datum.value === 0 ? '0' : (round(datum.value*10) % 2 === 0 ? format(datum.value, '.1f') : '')","tickSize":{"condition":{"test":"round(datum.value*10) % 2 === 0","value":5},"value":3},"labelPadding":{"condition":{"test":"datum.value === 0","value":9},"value":4}}},"color":{"field":"g","type":"nominal","scale":{"domain":["r","b"],"range":["#ff0000","#0000ff"]},"legend":null},"order":{"field":"t","type":"quantitative"}}},
 {"data":{"name":"km"},"transform":[{"filter":"datum.p==='B'"}],"mark":{"type":"point","filled":false,"strokeWidth":1,"size":42,"opacity":0.85},"encoding":{"x":{"field":"t","type":"quantitative"},"y":{"field":"s","type":"quantitative"},"color":{"field":"g","type":"nominal","legend":null},"shape":{"field":"m","type":"nominal","scale":{"domain":["x","+"],"range":["M-1,-1L1,1M-1,1L1,-1","M-1,0L1,0M0,-1L0,1"]},"legend":null}}},
 {"data":{"values":[{}]},"mark":{"type":"text","align":"left","baseline":"alphabetic","fontWeight":"bold"},"encoding":{"x":{"datum":-26.7},"y":{"datum":1.011},"text":{"value":"B"}}},
 {"data":{"values":[{}]},"mark":{"type":"text","align":"left","baseline":"alphabetic"},"encoding":{"x":{"datum":33.7},"y":{"datum":0.965},"text":{"value":"Expression of"}}},
 {"data":{"values":[{}]},"mark":{"type":"text","align":"left","baseline":"alphabetic","fontStyle":"italic","dx":122},"encoding":{"x":{"datum":33.7},"y":{"datum":0.965},"text":{"value":"CD3"}}},
 {"data":{"values":[{}]},"mark":{"type":"text","align":"left","baseline":"alphabetic","fontStyle":"italic"},"encoding":{"x":{"datum":33.7},"y":{"datum":0.855},"text":{"value":"P"}}},
 {"data":{"values":[{}]},"mark":{"type":"text","align":"left","baseline":"alphabetic","dx":18},"encoding":{"x":{"datum":33.7},"y":{"datum":0.855},"text":{"value":"= 0.013"}}}
]}
],"spacing":36},
{"hconcat":[
{"width":304,"height":204,"layer":[
 {"data":{"name":"km"},"transform":[{"filter":"datum.p==='C'"}],"mark":{"type":"line","interpolate":"step-after","strokeWidth":1},"encoding":{"x":{"field":"t","type":"quantitative","scale":{"domain":[-5,105],"nice":false,"zero":false},"axis":{"title":"Time after surgery (Months)","values":[0,6,12,18,24,30,36,42,48,54,60,66,72,78,84,90,96,102],"labelExpr":"datum.value % 24 === 0 ? datum.label : ''","tickSize":{"condition":{"test":"datum.value % 24 === 0","value":5},"value":3}}},"y":{"field":"s","type":"quantitative","scale":{"domain":[-0.08,1.085],"nice":false,"zero":false},"axis":{"title":"Survival rate","values":[0,0.1,0.2,0.3,0.4,0.5,0.6,0.7,0.8,0.9,1],"labelExpr":"datum.value === 0 ? '0' : (round(datum.value*10) % 2 === 0 ? format(datum.value, '.1f') : '')","tickSize":{"condition":{"test":"round(datum.value*10) % 2 === 0","value":5},"value":3},"labelPadding":{"condition":{"test":"datum.value === 0","value":9},"value":4}}},"color":{"field":"g","type":"nominal","scale":{"domain":["r","b"],"range":["#ff0000","#0000ff"]},"legend":null},"order":{"field":"t","type":"quantitative"}}},
 {"data":{"name":"km"},"transform":[{"filter":"datum.p==='C'"}],"mark":{"type":"point","filled":false,"strokeWidth":1,"size":42,"opacity":0.85},"encoding":{"x":{"field":"t","type":"quantitative"},"y":{"field":"s","type":"quantitative"},"color":{"field":"g","type":"nominal","legend":null},"shape":{"field":"m","type":"nominal","scale":{"domain":["x","+"],"range":["M-1,-1L1,1M-1,1L1,-1","M-1,0L1,0M0,-1L0,1"]},"legend":null}}},
 {"data":{"values":[{}]},"mark":{"type":"text","align":"left","baseline":"alphabetic","fontWeight":"bold"},"encoding":{"x":{"datum":-26.7},"y":{"datum":1.011},"text":{"value":"C"}}},
 {"data":{"values":[{}]},"mark":{"type":"text","align":"left","baseline":"alphabetic"},"encoding":{"x":{"datum":31.2},"y":{"datum":0.965},"text":{"value":"Expression of"}}},
 {"data":{"values":[{}]},"mark":{"type":"text","align":"left","baseline":"alphabetic","fontStyle":"italic","dx":122},"encoding":{"x":{"datum":31.2},"y":{"datum":0.965},"text":{"value":"CD4"}}},
 {"data":{"values":[{}]},"mark":{"type":"text","align":"left","baseline":"alphabetic","fontStyle":"italic"},"encoding":{"x":{"datum":31.2},"y":{"datum":0.855},"text":{"value":"P"}}},
 {"data":{"values":[{}]},"mark":{"type":"text","align":"left","baseline":"alphabetic","dx":18},"encoding":{"x":{"datum":31.2},"y":{"datum":0.855},"text":{"value":"= 0.003"}}}
]},
{"width":304,"height":204,"layer":[
 {"data":{"name":"km"},"transform":[{"filter":"datum.p==='D'"}],"mark":{"type":"line","interpolate":"step-after","strokeWidth":1},"encoding":{"x":{"field":"t","type":"quantitative","scale":{"domain":[-5,105],"nice":false,"zero":false},"axis":{"title":"Time after surgery (Months)","values":[0,6,12,18,24,30,36,42,48,54,60,66,72,78,84,90,96,102],"labelExpr":"datum.value % 24 === 0 ? datum.label : ''","tickSize":{"condition":{"test":"datum.value % 24 === 0","value":5},"value":3}}},"y":{"field":"s","type":"quantitative","scale":{"domain":[-0.08,1.085],"nice":false,"zero":false},"axis":{"title":"Survival rate","values":[0,0.1,0.2,0.3,0.4,0.5,0.6,0.7,0.8,0.9,1],"labelExpr":"datum.value === 0 ? '0' : (round(datum.value*10) % 2 === 0 ? format(datum.value, '.1f') : '')","tickSize":{"condition":{"test":"round(datum.value*10) % 2 === 0","value":5},"value":3},"labelPadding":{"condition":{"test":"datum.value === 0","value":9},"value":4}}},"color":{"field":"g","type":"nominal","scale":{"domain":["r","b"],"range":["#ff0000","#0000ff"]},"legend":null},"order":{"field":"t","type":"quantitative"}}},
 {"data":{"name":"km"},"transform":[{"filter":"datum.p==='D'"}],"mark":{"type":"point","filled":false,"strokeWidth":1,"size":42,"opacity":0.85},"encoding":{"x":{"field":"t","type":"quantitative"},"y":{"field":"s","type":"quantitative"},"color":{"field":"g","type":"nominal","legend":null},"shape":{"field":"m","type":"nominal","scale":{"domain":["x","+"],"range":["M-1,-1L1,1M-1,1L1,-1","M-1,0L1,0M0,-1L0,1"]},"legend":null}}},
 {"data":{"values":[{}]},"mark":{"type":"text","align":"left","baseline":"alphabetic","fontWeight":"bold"},"encoding":{"x":{"datum":-26.7},"y":{"datum":1.011},"text":{"value":"D"}}},
 {"data":{"values":[{}]},"mark":{"type":"text","align":"left","baseline":"alphabetic"},"encoding":{"x":{"datum":33.7},"y":{"datum":0.965},"text":{"value":"Expression of"}}},
 {"data":{"values":[{}]},"mark":{"type":"text","align":"left","baseline":"alphabetic","fontStyle":"italic","dx":122},"encoding":{"x":{"datum":33.7},"y":{"datum":0.965},"text":{"value":"CD4"}}},
 {"data":{"values":[{}]},"mark":{"type":"text","align":"left","baseline":"alphabetic","fontStyle":"italic"},"encoding":{"x":{"datum":33.7},"y":{"datum":0.855},"text":{"value":"P"}}},
 {"data":{"values":[{}]},"mark":{"type":"text","align":"left","baseline":"alphabetic","dx":18},"encoding":{"x":{"datum":33.7},"y":{"datum":0.855},"text":{"value":"= 0.003"}}}
]}
],"spacing":36},
{"hconcat":[
{"width":304,"height":204,"layer":[
 {"data":{"name":"km"},"transform":[{"filter":"datum.p==='E'"}],"mark":{"type":"line","interpolate":"step-after","strokeWidth":1},"encoding":{"x":{"field":"t","type":"quantitative","scale":{"domain":[-5,105],"nice":false,"zero":false},"axis":{"title":"Time after surgery (Months)","values":[0,6,12,18,24,30,36,42,48,54,60,66,72,78,84,90,96,102],"labelExpr":"datum.value % 24 === 0 ? datum.label : ''","tickSize":{"condition":{"test":"datum.value % 24 === 0","value":5},"value":3}}},"y":{"field":"s","type":"quantitative","scale":{"domain":[-0.08,1.085],"nice":false,"zero":false},"axis":{"title":"Survival rate","values":[0,0.1,0.2,0.3,0.4,0.5,0.6,0.7,0.8,0.9,1],"labelExpr":"datum.value === 0 ? '0' : (round(datum.value*10) % 2 === 0 ? format(datum.value, '.1f') : '')","tickSize":{"condition":{"test":"round(datum.value*10) % 2 === 0","value":5},"value":3},"labelPadding":{"condition":{"test":"datum.value === 0","value":9},"value":4}}},"color":{"field":"g","type":"nominal","scale":{"domain":["r","b"],"range":["#ff0000","#0000ff"]},"legend":null},"order":{"field":"t","type":"quantitative"}}},
 {"data":{"name":"km"},"transform":[{"filter":"datum.p==='E'"}],"mark":{"type":"point","filled":false,"strokeWidth":1,"size":42,"opacity":0.85},"encoding":{"x":{"field":"t","type":"quantitative"},"y":{"field":"s","type":"quantitative"},"color":{"field":"g","type":"nominal","legend":null},"shape":{"field":"m","type":"nominal","scale":{"domain":["x","+"],"range":["M-1,-1L1,1M-1,1L1,-1","M-1,0L1,0M0,-1L0,1"]},"legend":null}}},
 {"data":{"values":[{}]},"mark":{"type":"text","align":"left","baseline":"alphabetic","fontWeight":"bold"},"encoding":{"x":{"datum":-26.7},"y":{"datum":1.011},"text":{"value":"E"}}},
 {"data":{"values":[{}]},"mark":{"type":"text","align":"left","baseline":"alphabetic"},"encoding":{"x":{"datum":31.2},"y":{"datum":0.965},"text":{"value":"Expression of"}}},
 {"data":{"values":[{}]},"mark":{"type":"text","align":"left","baseline":"alphabetic","fontStyle":"italic","dx":122},"encoding":{"x":{"datum":31.2},"y":{"datum":0.965},"text":{"value":"CD8"}}},
 {"data":{"values":[{}]},"mark":{"type":"text","align":"left","baseline":"alphabetic","fontStyle":"italic"},"encoding":{"x":{"datum":31.2},"y":{"datum":0.855},"text":{"value":"P"}}},
 {"data":{"values":[{}]},"mark":{"type":"text","align":"left","baseline":"alphabetic","dx":18},"encoding":{"x":{"datum":31.2},"y":{"datum":0.855},"text":{"value":"= 0.0001"}}}
]},
{"width":304,"height":204,"layer":[
 {"data":{"name":"km"},"transform":[{"filter":"datum.p==='F'"}],"mark":{"type":"line","interpolate":"step-after","strokeWidth":1},"encoding":{"x":{"field":"t","type":"quantitative","scale":{"domain":[-5,105],"nice":false,"zero":false},"axis":{"title":"Time after surgery (Months)","values":[0,6,12,18,24,30,36,42,48,54,60,66,72,78,84,90,96,102],"labelExpr":"datum.value % 24 === 0 ? datum.label : ''","tickSize":{"condition":{"test":"datum.value % 24 === 0","value":5},"value":3}}},"y":{"field":"s","type":"quantitative","scale":{"domain":[-0.08,1.085],"nice":false,"zero":false},"axis":{"title":"Survival rate","values":[0,0.1,0.2,0.3,0.4,0.5,0.6,0.7,0.8,0.9,1],"labelExpr":"datum.value === 0 ? '0' : (round(datum.value*10) % 2 === 0 ? format(datum.value, '.1f') : '')","tickSize":{"condition":{"test":"round(datum.value*10) % 2 === 0","value":5},"value":3},"labelPadding":{"condition":{"test":"datum.value === 0","value":9},"value":4}}},"color":{"field":"g","type":"nominal","scale":{"domain":["r","b"],"range":["#ff0000","#0000ff"]},"legend":null},"order":{"field":"t","type":"quantitative"}}},
 {"data":{"name":"km"},"transform":[{"filter":"datum.p==='F'"}],"mark":{"type":"point","filled":false,"strokeWidth":1,"size":42,"opacity":0.85},"encoding":{"x":{"field":"t","type":"quantitative"},"y":{"field":"s","type":"quantitative"},"color":{"field":"g","type":"nominal","legend":null},"shape":{"field":"m","type":"nominal","scale":{"domain":["x","+"],"range":["M-1,-1L1,1M-1,1L1,-1","M-1,0L1,0M0,-1L0,1"]},"legend":null}}},
 {"data":{"values":[{}]},"mark":{"type":"text","align":"left","baseline":"alphabetic","fontWeight":"bold"},"encoding":{"x":{"datum":-26.7},"y":{"datum":1.011},"text":{"value":"F"}}},
 {"data":{"values":[{}]},"mark":{"type":"text","align":"left","baseline":"alphabetic"},"encoding":{"x":{"datum":33.7},"y":{"datum":0.965},"text":{"value":"Expression of"}}},
 {"data":{"values":[{}]},"mark":{"type":"text","align":"left","baseline":"alphabetic","fontStyle":"italic","dx":122},"encoding":{"x":{"datum":33.7},"y":{"datum":0.965},"text":{"value":"CD8"}}},
 {"data":{"values":[{}]},"mark":{"type":"text","align":"left","baseline":"alphabetic","fontStyle":"italic"},"encoding":{"x":{"datum":33.7},"y":{"datum":0.855},"text":{"value":"P"}}},
 {"data":{"values":[{}]},"mark":{"type":"text","align":"left","baseline":"alphabetic","dx":18},"encoding":{"x":{"datum":33.7},"y":{"datum":0.855},"text":{"value":"= 0.0003"}}}
]}
],"spacing":36},
{"hconcat":[
{"width":304,"height":204,"layer":[
 {"data":{"name":"km"},"transform":[{"filter":"datum.p==='G'"}],"mark":{"type":"line","interpolate":"step-after","strokeWidth":1},"encoding":{"x":{"field":"t","type":"quantitative","scale":{"domain":[-5,105],"nice":false,"zero":false},"axis":{"title":"Time after surgery (Months)","values":[0,6,12,18,24,30,36,42,48,54,60,66,72,78,84,90,96,102],"labelExpr":"datum.value % 24 === 0 ? datum.label : ''","tickSize":{"condition":{"test":"datum.value % 24 === 0","value":5},"value":3}}},"y":{"field":"s","type":"quantitative","scale":{"domain":[-0.08,1.085],"nice":false,"zero":false},"axis":{"title":"Survival rate","values":[0,0.1,0.2,0.3,0.4,0.5,0.6,0.7,0.8,0.9,1],"labelExpr":"datum.value === 0 ? '0' : (round(datum.value*10) % 2 === 0 ? format(datum.value, '.1f') : '')","tickSize":{"condition":{"test":"round(datum.value*10) % 2 === 0","value":5},"value":3},"labelPadding":{"condition":{"test":"datum.value === 0","value":9},"value":4}}},"color":{"field":"g","type":"nominal","scale":{"domain":["r","b"],"range":["#ff0000","#0000ff"]},"legend":null},"order":{"field":"t","type":"quantitative"}}},
 {"data":{"name":"km"},"transform":[{"filter":"datum.p==='G'"}],"mark":{"type":"point","filled":false,"strokeWidth":1,"size":42,"opacity":0.85},"encoding":{"x":{"field":"t","type":"quantitative"},"y":{"field":"s","type":"quantitative"},"color":{"field":"g","type":"nominal","legend":null},"shape":{"field":"m","type":"nominal","scale":{"domain":["x","+"],"range":["M-1,-1L1,1M-1,1L1,-1","M-1,0L1,0M0,-1L0,1"]},"legend":null}}},
 {"data":{"values":[{}]},"mark":{"type":"text","align":"left","baseline":"alphabetic","fontWeight":"bold"},"encoding":{"x":{"datum":-26.7},"y":{"datum":1.011},"text":{"value":"G"}}},
 {"data":{"values":[{}]},"mark":{"type":"text","align":"left","baseline":"alphabetic"},"encoding":{"x":{"datum":31.2},"y":{"datum":0.965},"text":{"value":"Expression of"}}},
 {"data":{"values":[{}]},"mark":{"type":"text","align":"left","baseline":"alphabetic","fontStyle":"italic","dx":122},"encoding":{"x":{"datum":31.2},"y":{"datum":0.965},"text":{"value":"FOXP3"}}},
 {"data":{"values":[{}]},"mark":{"type":"text","align":"left","baseline":"alphabetic","fontStyle":"italic"},"encoding":{"x":{"datum":31.2},"y":{"datum":0.855},"text":{"value":"P"}}},
 {"data":{"values":[{}]},"mark":{"type":"text","align":"left","baseline":"alphabetic","dx":18},"encoding":{"x":{"datum":31.2},"y":{"datum":0.855},"text":{"value":"= 0.063"}}}
]},
{"width":304,"height":204,"layer":[
 {"data":{"name":"km"},"transform":[{"filter":"datum.p==='H'"}],"mark":{"type":"line","interpolate":"step-after","strokeWidth":1},"encoding":{"x":{"field":"t","type":"quantitative","scale":{"domain":[-5,105],"nice":false,"zero":false},"axis":{"title":"Time after surgery (Months)","values":[0,6,12,18,24,30,36,42,48,54,60,66,72,78,84,90,96,102],"labelExpr":"datum.value % 24 === 0 ? datum.label : ''","tickSize":{"condition":{"test":"datum.value % 24 === 0","value":5},"value":3}}},"y":{"field":"s","type":"quantitative","scale":{"domain":[-0.08,1.085],"nice":false,"zero":false},"axis":{"title":"Survival rate","values":[0,0.1,0.2,0.3,0.4,0.5,0.6,0.7,0.8,0.9,1],"labelExpr":"datum.value === 0 ? '0' : (round(datum.value*10) % 2 === 0 ? format(datum.value, '.1f') : '')","tickSize":{"condition":{"test":"round(datum.value*10) % 2 === 0","value":5},"value":3},"labelPadding":{"condition":{"test":"datum.value === 0","value":9},"value":4}}},"color":{"field":"g","type":"nominal","scale":{"domain":["r","b"],"range":["#ff0000","#0000ff"]},"legend":null},"order":{"field":"t","type":"quantitative"}}},
 {"data":{"name":"km"},"transform":[{"filter":"datum.p==='H'"}],"mark":{"type":"point","filled":false,"strokeWidth":1,"size":42,"opacity":0.85},"encoding":{"x":{"field":"t","type":"quantitative"},"y":{"field":"s","type":"quantitative"},"color":{"field":"g","type":"nominal","legend":null},"shape":{"field":"m","type":"nominal","scale":{"domain":["x","+"],"range":["M-1,-1L1,1M-1,1L1,-1","M-1,0L1,0M0,-1L0,1"]},"legend":null}}},
 {"data":{"values":[{}]},"mark":{"type":"text","align":"left","baseline":"alphabetic","fontWeight":"bold"},"encoding":{"x":{"datum":-26.7},"y":{"datum":1.011},"text":{"value":"H"}}},
 {"data":{"values":[{}]},"mark":{"type":"text","align":"left","baseline":"alphabetic"},"encoding":{"x":{"datum":33.7},"y":{"datum":0.965},"text":{"value":"Expression of"}}},
 {"data":{"values":[{}]},"mark":{"type":"text","align":"left","baseline":"alphabetic","fontStyle":"italic","dx":122},"encoding":{"x":{"datum":33.7},"y":{"datum":0.965},"text":{"value":"FOXP3"}}},
 {"data":{"values":[{}]},"mark":{"type":"text","align":"left","baseline":"alphabetic","fontStyle":"italic"},"encoding":{"x":{"datum":33.7},"y":{"datum":0.855},"text":{"value":"P"}}},
 {"data":{"values":[{}]},"mark":{"type":"text","align":"left","baseline":"alphabetic","dx":18},"encoding":{"x":{"datum":33.7},"y":{"datum":0.855},"text":{"value":"= 0.427"}}}
]}
],"spacing":36},
{"hconcat":[
{"width":304,"height":204,"layer":[
 {"data":{"name":"km"},"transform":[{"filter":"datum.p==='I'"}],"mark":{"type":"line","interpolate":"step-after","strokeWidth":1},"encoding":{"x":{"field":"t","type":"quantitative","scale":{"domain":[-5,105],"nice":false,"zero":false},"axis":{"title":"Time after surgery (Months)","values":[0,6,12,18,24,30,36,42,48,54,60,66,72,78,84,90,96,102],"labelExpr":"datum.value % 24 === 0 ? datum.label : ''","tickSize":{"condition":{"test":"datum.value % 24 === 0","value":5},"value":3}}},"y":{"field":"s","type":"quantitative","scale":{"domain":[-0.08,1.085],"nice":false,"zero":false},"axis":{"title":"Survival rate","values":[0,0.1,0.2,0.3,0.4,0.5,0.6,0.7,0.8,0.9,1],"labelExpr":"datum.value === 0 ? '0' : (round(datum.value*10) % 2 === 0 ? format(datum.value, '.1f') : '')","tickSize":{"condition":{"test":"round(datum.value*10) % 2 === 0","value":5},"value":3},"labelPadding":{"condition":{"test":"datum.value === 0","value":9},"value":4}}},"color":{"field":"g","type":"nominal","scale":{"domain":["r","b"],"range":["#ff0000","#0000ff"]},"legend":null},"order":{"field":"t","type":"quantitative"}}},
 {"data":{"name":"km"},"transform":[{"filter":"datum.p==='I'"}],"mark":{"type":"point","filled":false,"strokeWidth":1,"size":42,"opacity":0.85},"encoding":{"x":{"field":"t","type":"quantitative"},"y":{"field":"s","type":"quantitative"},"color":{"field":"g","type":"nominal","legend":null},"shape":{"field":"m","type":"nominal","scale":{"domain":["x","+"],"range":["M-1,-1L1,1M-1,1L1,-1","M-1,0L1,0M0,-1L0,1"]},"legend":null}}},
 {"data":{"values":[{}]},"mark":{"type":"text","align":"left","baseline":"alphabetic","fontWeight":"bold"},"encoding":{"x":{"datum":-26.7},"y":{"datum":1.011},"text":{"value":"I"}}},
 {"data":{"values":[{}]},"mark":{"type":"text","align":"left","baseline":"alphabetic"},"encoding":{"x":{"datum":31.2},"y":{"datum":0.965},"text":{"value":"Ratio of"}}},
 {"data":{"values":[{}]},"mark":{"type":"text","align":"left","baseline":"alphabetic","fontStyle":"italic","dx":71},"encoding":{"x":{"datum":31.2},"y":{"datum":0.965},"text":{"value":"FOXP3/CD4"}}},
 {"data":{"values":[{}]},"mark":{"type":"text","align":"left","baseline":"alphabetic","fontStyle":"italic"},"encoding":{"x":{"datum":31.2},"y":{"datum":0.855},"text":{"value":"P"}}},
 {"data":{"values":[{}]},"mark":{"type":"text","align":"left","baseline":"alphabetic","dx":18},"encoding":{"x":{"datum":31.2},"y":{"datum":0.855},"text":{"value":"= 0.441"}}}
]},
{"width":304,"height":204,"layer":[
 {"data":{"name":"km"},"transform":[{"filter":"datum.p==='J'"}],"mark":{"type":"line","interpolate":"step-after","strokeWidth":1},"encoding":{"x":{"field":"t","type":"quantitative","scale":{"domain":[-5,105],"nice":false,"zero":false},"axis":{"title":"Time after surgery (Months)","values":[0,6,12,18,24,30,36,42,48,54,60,66,72,78,84,90,96,102],"labelExpr":"datum.value % 24 === 0 ? datum.label : ''","tickSize":{"condition":{"test":"datum.value % 24 === 0","value":5},"value":3}}},"y":{"field":"s","type":"quantitative","scale":{"domain":[-0.08,1.085],"nice":false,"zero":false},"axis":{"title":"Survival rate","values":[0,0.1,0.2,0.3,0.4,0.5,0.6,0.7,0.8,0.9,1],"labelExpr":"datum.value === 0 ? '0' : (round(datum.value*10) % 2 === 0 ? format(datum.value, '.1f') : '')","tickSize":{"condition":{"test":"round(datum.value*10) % 2 === 0","value":5},"value":3},"labelPadding":{"condition":{"test":"datum.value === 0","value":9},"value":4}}},"color":{"field":"g","type":"nominal","scale":{"domain":["r","b"],"range":["#ff0000","#0000ff"]},"legend":null},"order":{"field":"t","type":"quantitative"}}},
 {"data":{"name":"km"},"transform":[{"filter":"datum.p==='J'"}],"mark":{"type":"point","filled":false,"strokeWidth":1,"size":42,"opacity":0.85},"encoding":{"x":{"field":"t","type":"quantitative"},"y":{"field":"s","type":"quantitative"},"color":{"field":"g","type":"nominal","legend":null},"shape":{"field":"m","type":"nominal","scale":{"domain":["x","+"],"range":["M-1,-1L1,1M-1,1L1,-1","M-1,0L1,0M0,-1L0,1"]},"legend":null}}},
 {"data":{"values":[{}]},"mark":{"type":"text","align":"left","baseline":"alphabetic","fontWeight":"bold"},"encoding":{"x":{"datum":-26.7},"y":{"datum":1.011},"text":{"value":"J"}}},
 {"data":{"values":[{}]},"mark":{"type":"text","align":"left","baseline":"alphabetic"},"encoding":{"x":{"datum":33.7},"y":{"datum":0.965},"text":{"value":"Ratio of"}}},
 {"data":{"values":[{}]},"mark":{"type":"text","align":"left","baseline":"alphabetic","fontStyle":"italic","dx":71},"encoding":{"x":{"datum":33.7},"y":{"datum":0.965},"text":{"value":"FOXP3/CD4"}}},
 {"data":{"values":[{}]},"mark":{"type":"text","align":"left","baseline":"alphabetic","fontStyle":"italic"},"encoding":{"x":{"datum":33.7},"y":{"datum":0.855},"text":{"value":"P"}}},
 {"data":{"values":[{}]},"mark":{"type":"text","align":"left","baseline":"alphabetic","dx":18},"encoding":{"x":{"datum":33.7},"y":{"datum":0.855},"text":{"value":"= 0.182"}}}
]}
],"spacing":36}
]
}
